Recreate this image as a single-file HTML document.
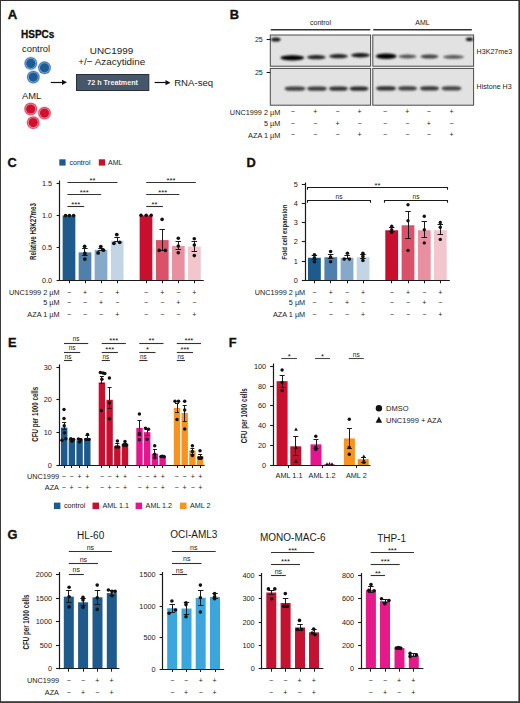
<!DOCTYPE html>
<html><head><meta charset="utf-8"><style>
html,body{margin:0;padding:0;background:#fff;}
svg{display:block;font-family:"Liberation Sans", sans-serif;}
</style></head><body>
<svg width="520" height="703" viewBox="0 0 520 703">
<rect width="520" height="703" fill="#fff"/>
<text x="7.80" y="19.00" font-size="13.2" text-anchor="start" font-weight="bold" fill="#111" stroke="#111" stroke-width="0.35">A</text>
<text x="21.00" y="38.30" font-size="10.0" text-anchor="start" font-weight="bold" fill="#111" stroke="#111" stroke-width="0.3">HSPCs</text>
<text x="22.00" y="52.30" font-size="9.4" text-anchor="start" font-weight="normal" fill="#222" >control</text>
<text x="22.00" y="99.30" font-size="9.4" text-anchor="start" font-weight="normal" fill="#222" >AML</text>
<circle cx="30.80" cy="63.40" r="6.80" fill="#bcd2e8" />
<circle cx="30.80" cy="63.40" r="6.20" fill="#3a70a6" />
<circle cx="30.80" cy="63.40" r="5.40" fill="#86add3" />
<circle cx="30.80" cy="63.40" r="4.60" fill="#1b5b97" />
<circle cx="44.50" cy="67.80" r="6.80" fill="#bcd2e8" />
<circle cx="44.50" cy="67.80" r="6.20" fill="#3a70a6" />
<circle cx="44.50" cy="67.80" r="5.40" fill="#86add3" />
<circle cx="44.50" cy="67.80" r="4.60" fill="#1b5b97" />
<circle cx="33.30" cy="77.10" r="6.80" fill="#bcd2e8" />
<circle cx="33.30" cy="77.10" r="6.20" fill="#3a70a6" />
<circle cx="33.30" cy="77.10" r="5.40" fill="#86add3" />
<circle cx="33.30" cy="77.10" r="4.60" fill="#1b5b97" />
<circle cx="30.70" cy="109.00" r="6.80" fill="#f5bfca" />
<circle cx="30.70" cy="109.00" r="6.20" fill="#d63a55" />
<circle cx="30.70" cy="109.00" r="5.40" fill="#ee95a5" />
<circle cx="30.70" cy="109.00" r="4.60" fill="#d0102e" />
<circle cx="44.50" cy="113.10" r="6.80" fill="#f5bfca" />
<circle cx="44.50" cy="113.10" r="6.20" fill="#d63a55" />
<circle cx="44.50" cy="113.10" r="5.40" fill="#ee95a5" />
<circle cx="44.50" cy="113.10" r="4.60" fill="#d0102e" />
<circle cx="33.20" cy="122.60" r="6.80" fill="#f5bfca" />
<circle cx="33.20" cy="122.60" r="6.20" fill="#d63a55" />
<circle cx="33.20" cy="122.60" r="5.40" fill="#ee95a5" />
<circle cx="33.20" cy="122.60" r="4.60" fill="#d0102e" />
<line x1="50.80" y1="82.50" x2="64.00" y2="82.50" stroke="#111" stroke-width="1.2"/>
<path d="M67.00 82.30 L62.00 79.70 L62.00 84.90 Z" fill="#111"/>
<text x="111.50" y="53.80" font-size="9.9" text-anchor="middle" font-weight="normal" fill="#222" >UNC1999</text>
<text x="111.80" y="65.40" font-size="9.9" text-anchor="middle" font-weight="normal" fill="#222" >+/− Azacytidine</text>
<rect x="76.50" y="74.50" width="72.30" height="16.00" fill="#46576a" stroke="#26303b" stroke-width="1"/>
<text x="112.60" y="85.20" font-size="7.2" text-anchor="middle" font-weight="bold" fill="#f2f4f6" >72 h Treatment</text>
<line x1="154.60" y1="82.50" x2="167.50" y2="82.50" stroke="#111" stroke-width="1.2"/>
<path d="M170.50 82.70 L165.50 80.10 L165.50 85.30 Z" fill="#111"/>
<text x="174.20" y="85.80" font-size="9.6" text-anchor="start" font-weight="normal" fill="#222" >RNA-seq</text>
<text x="229.80" y="18.80" font-size="12.8" text-anchor="start" font-weight="bold" fill="#111" stroke="#111" stroke-width="0.35">B</text>
<text x="320.50" y="25.12" font-size="7.0" text-anchor="middle" font-weight="normal" fill="#1a1a1a" >control</text>
<text x="422.50" y="25.22" font-size="7.0" text-anchor="middle" font-weight="normal" fill="#1a1a1a" >AML</text>
<line x1="270.80" y1="29.70" x2="370.30" y2="29.70" stroke="#333" stroke-width="1.4"/>
<line x1="373.30" y1="29.70" x2="471.80" y2="29.70" stroke="#333" stroke-width="1.4"/>
<defs><filter id="bl" x="-50%" y="-200%" width="200%" height="500%"><feGaussianBlur stdDeviation="1.2 0.8"/></filter><filter id="bl2" x="-50%" y="-200%" width="200%" height="500%"><feGaussianBlur stdDeviation="1.2 0.9"/></filter></defs>
<rect x="270.30" y="35.00" width="100.30" height="31.20" fill="#e2e2e2" stroke="#4a4a4a" stroke-width="1"/>
<rect x="270.30" y="68.40" width="100.30" height="36.80" fill="#e2e2e2" stroke="#4a4a4a" stroke-width="1"/>
<rect x="372.80" y="35.00" width="100.80" height="31.20" fill="#e2e2e2" stroke="#4a4a4a" stroke-width="1"/>
<rect x="372.80" y="68.40" width="100.80" height="36.80" fill="#e2e2e2" stroke="#4a4a4a" stroke-width="1"/>
<ellipse cx="275.80" cy="39.40" rx="4.75" ry="2.00" fill="#000" opacity="0.9" filter="url(#bl)"/>
<ellipse cx="469.50" cy="39.20" rx="3.75" ry="1.80" fill="#000" opacity="0.95" filter="url(#bl)"/>
<ellipse cx="292.30" cy="57.80" rx="12.00" ry="2.60" fill="#000" opacity="1.0" filter="url(#bl)"/>
<ellipse cx="316.30" cy="57.20" rx="9.50" ry="2.10" fill="#000" opacity="0.85" filter="url(#bl)"/>
<ellipse cx="338.50" cy="56.20" rx="9.50" ry="2.10" fill="#000" opacity="0.85" filter="url(#bl)"/>
<ellipse cx="360.50" cy="55.20" rx="9.50" ry="2.20" fill="#000" opacity="0.9" filter="url(#bl)"/>
<ellipse cx="386.20" cy="56.30" rx="10.50" ry="2.80" fill="#000" opacity="1.0" filter="url(#bl)"/>
<ellipse cx="407.50" cy="56.50" rx="9.00" ry="1.90" fill="#000" opacity="0.64" filter="url(#bl)"/>
<ellipse cx="429.50" cy="56.50" rx="9.00" ry="2.00" fill="#000" opacity="0.72" filter="url(#bl)"/>
<ellipse cx="453.50" cy="56.90" rx="10.50" ry="1.80" fill="#000" opacity="0.62" filter="url(#bl)"/>
<rect x="284.50" y="86.40" width="21.00" height="4.40" rx="6.30" ry="2.20" fill="#000" opacity="0.72" filter="url(#bl)"/>
<rect x="307.00" y="86.40" width="20.00" height="4.40" rx="6.00" ry="2.20" fill="#000" opacity="0.74" filter="url(#bl)"/>
<rect x="328.90" y="86.40" width="19.00" height="4.40" rx="5.70" ry="2.20" fill="#000" opacity="0.78" filter="url(#bl)"/>
<rect x="349.50" y="86.40" width="19.00" height="4.40" rx="5.70" ry="2.20" fill="#000" opacity="0.82" filter="url(#bl)"/>
<rect x="376.00" y="86.20" width="20.00" height="4.40" rx="6.00" ry="2.20" fill="#000" opacity="0.8" filter="url(#bl)"/>
<rect x="398.00" y="86.20" width="19.00" height="4.40" rx="5.70" ry="2.20" fill="#000" opacity="0.72" filter="url(#bl)"/>
<rect x="420.00" y="86.20" width="19.00" height="4.40" rx="5.70" ry="2.20" fill="#000" opacity="0.76" filter="url(#bl)"/>
<rect x="441.50" y="86.20" width="20.00" height="4.40" rx="6.00" ry="2.20" fill="#000" opacity="0.7" filter="url(#bl)"/>
<text x="476.60" y="53.76" font-size="7.1" text-anchor="start" font-weight="normal" fill="#1a1a1a" >H3K27me3</text>
<text x="476.60" y="88.86" font-size="7.1" text-anchor="start" font-weight="normal" fill="#1a1a1a" >Histone H3</text>
<text x="262.80" y="41.96" font-size="7.1" text-anchor="end" font-weight="normal" fill="#1a1a1a" >25</text>
<text x="262.80" y="75.16" font-size="7.1" text-anchor="end" font-weight="normal" fill="#1a1a1a" >25</text>
<line x1="266.60" y1="39.50" x2="270.30" y2="39.50" stroke="#1a1a1a" stroke-width="1.1"/>
<line x1="266.60" y1="72.50" x2="270.30" y2="72.50" stroke="#1a1a1a" stroke-width="1.1"/>
<text x="280.30" y="114.53" font-size="7.3" text-anchor="end" font-weight="normal" fill="#1a1a1a" >UNC1999 2 µM</text>
<text x="280.30" y="126.03" font-size="7.3" text-anchor="end" font-weight="normal" fill="#1a1a1a" >5 µM</text>
<text x="280.30" y="137.53" font-size="7.3" text-anchor="end" font-weight="normal" fill="#1a1a1a" >AZA 1 µM</text>
<text x="292.80" y="114.22" font-size="7.0" text-anchor="middle" font-weight="normal" fill="#1a1a1a" >−</text>
<text x="315.30" y="114.22" font-size="7.0" text-anchor="middle" font-weight="normal" fill="#1a1a1a" >+</text>
<text x="337.60" y="114.22" font-size="7.0" text-anchor="middle" font-weight="normal" fill="#1a1a1a" >−</text>
<text x="359.60" y="114.22" font-size="7.0" text-anchor="middle" font-weight="normal" fill="#1a1a1a" >+</text>
<text x="385.00" y="114.22" font-size="7.0" text-anchor="middle" font-weight="normal" fill="#1a1a1a" >−</text>
<text x="407.20" y="114.22" font-size="7.0" text-anchor="middle" font-weight="normal" fill="#1a1a1a" >+</text>
<text x="428.80" y="114.22" font-size="7.0" text-anchor="middle" font-weight="normal" fill="#1a1a1a" >−</text>
<text x="451.60" y="114.22" font-size="7.0" text-anchor="middle" font-weight="normal" fill="#1a1a1a" >+</text>
<text x="292.80" y="125.62" font-size="7.0" text-anchor="middle" font-weight="normal" fill="#1a1a1a" >−</text>
<text x="315.30" y="125.62" font-size="7.0" text-anchor="middle" font-weight="normal" fill="#1a1a1a" >−</text>
<text x="337.60" y="125.62" font-size="7.0" text-anchor="middle" font-weight="normal" fill="#1a1a1a" >+</text>
<text x="359.60" y="125.62" font-size="7.0" text-anchor="middle" font-weight="normal" fill="#1a1a1a" >−</text>
<text x="385.00" y="125.62" font-size="7.0" text-anchor="middle" font-weight="normal" fill="#1a1a1a" >−</text>
<text x="407.20" y="125.62" font-size="7.0" text-anchor="middle" font-weight="normal" fill="#1a1a1a" >−</text>
<text x="428.80" y="125.62" font-size="7.0" text-anchor="middle" font-weight="normal" fill="#1a1a1a" >+</text>
<text x="451.60" y="125.62" font-size="7.0" text-anchor="middle" font-weight="normal" fill="#1a1a1a" >−</text>
<text x="292.80" y="137.12" font-size="7.0" text-anchor="middle" font-weight="normal" fill="#1a1a1a" >−</text>
<text x="315.30" y="137.12" font-size="7.0" text-anchor="middle" font-weight="normal" fill="#1a1a1a" >−</text>
<text x="337.60" y="137.12" font-size="7.0" text-anchor="middle" font-weight="normal" fill="#1a1a1a" >−</text>
<text x="359.60" y="137.12" font-size="7.0" text-anchor="middle" font-weight="normal" fill="#1a1a1a" >+</text>
<text x="385.00" y="137.12" font-size="7.0" text-anchor="middle" font-weight="normal" fill="#1a1a1a" >−</text>
<text x="407.20" y="137.12" font-size="7.0" text-anchor="middle" font-weight="normal" fill="#1a1a1a" >−</text>
<text x="428.80" y="137.12" font-size="7.0" text-anchor="middle" font-weight="normal" fill="#1a1a1a" >−</text>
<text x="451.60" y="137.12" font-size="7.0" text-anchor="middle" font-weight="normal" fill="#1a1a1a" >+</text>
<text x="7.50" y="167.10" font-size="12.8" text-anchor="start" font-weight="bold" fill="#111" stroke="#111" stroke-width="0.35">C</text>
<rect x="59.30" y="159.30" width="6.30" height="6.30" fill="#1f5a8c" />
<text x="69.50" y="165.02" font-size="7.0" text-anchor="start" font-weight="normal" fill="#1a1a1a" >control</text>
<rect x="98.80" y="159.30" width="6.30" height="6.30" fill="#c8102e" />
<text x="108.00" y="165.02" font-size="7.0" text-anchor="start" font-weight="normal" fill="#1a1a1a" >AML</text>
<line x1="59.50" y1="180.50" x2="59.50" y2="280.80" stroke="#1a1a1a" stroke-width="1.2"/>
<line x1="56.60" y1="183.50" x2="59.80" y2="183.50" stroke="#1a1a1a" stroke-width="1.1"/>
<text x="52.10" y="185.78" font-size="7.3" text-anchor="end" font-weight="normal" fill="#1a1a1a" >1.5</text>
<line x1="56.60" y1="215.50" x2="59.80" y2="215.50" stroke="#1a1a1a" stroke-width="1.1"/>
<text x="52.10" y="218.13" font-size="7.3" text-anchor="end" font-weight="normal" fill="#1a1a1a" >1.0</text>
<line x1="56.60" y1="247.50" x2="59.80" y2="247.50" stroke="#1a1a1a" stroke-width="1.1"/>
<text x="52.10" y="250.48" font-size="7.3" text-anchor="end" font-weight="normal" fill="#1a1a1a" >0.5</text>
<line x1="56.60" y1="280.50" x2="59.80" y2="280.50" stroke="#1a1a1a" stroke-width="1.1"/>
<text x="52.10" y="282.83" font-size="7.3" text-anchor="end" font-weight="normal" fill="#1a1a1a" >0.0</text>
<text x="0" y="0" font-size="9.0" font-weight="bold" text-anchor="middle" fill="#1a1a1a" textLength="56.8" lengthAdjust="spacingAndGlyphs" transform="translate(36.24,231.50) rotate(-90)">Relative H3K27me3</text>
<rect x="62.65" y="215.50" width="12.70" height="64.70" fill="#1f5a8c" />
<rect x="78.65" y="252.38" width="12.70" height="27.82" fill="#4f7fab" />
<rect x="94.65" y="249.79" width="12.70" height="30.41" fill="#87a9c9" />
<rect x="110.85" y="240.73" width="12.70" height="39.47" fill="#c3d5e5" />
<rect x="139.65" y="215.50" width="12.70" height="64.70" fill="#c8102e" />
<rect x="155.95" y="240.09" width="12.70" height="40.11" fill="#d9526a" />
<rect x="171.95" y="245.91" width="12.70" height="34.29" fill="#e8909f" />
<rect x="188.05" y="246.56" width="12.70" height="33.64" fill="#f2c6cd" />
<line x1="59.20" y1="280.50" x2="203.80" y2="280.50" stroke="#1a1a1a" stroke-width="1.2"/>
<line x1="69.50" y1="280.20" x2="69.50" y2="283.20" stroke="#1a1a1a" stroke-width="1.0"/>
<line x1="85.50" y1="280.20" x2="85.50" y2="283.20" stroke="#1a1a1a" stroke-width="1.0"/>
<line x1="101.50" y1="280.20" x2="101.50" y2="283.20" stroke="#1a1a1a" stroke-width="1.0"/>
<line x1="117.50" y1="280.20" x2="117.50" y2="283.20" stroke="#1a1a1a" stroke-width="1.0"/>
<line x1="146.50" y1="280.20" x2="146.50" y2="283.20" stroke="#1a1a1a" stroke-width="1.0"/>
<line x1="162.50" y1="280.20" x2="162.50" y2="283.20" stroke="#1a1a1a" stroke-width="1.0"/>
<line x1="178.50" y1="280.20" x2="178.50" y2="283.20" stroke="#1a1a1a" stroke-width="1.0"/>
<line x1="194.50" y1="280.20" x2="194.50" y2="283.20" stroke="#1a1a1a" stroke-width="1.0"/>
<circle cx="65.60" cy="215.60" r="1.80" fill="#111" />
<circle cx="69.40" cy="215.60" r="1.80" fill="#111" />
<circle cx="73.60" cy="215.60" r="1.80" fill="#111" />
<circle cx="141.00" cy="215.20" r="1.80" fill="#111" />
<circle cx="146.20" cy="215.20" r="1.80" fill="#111" />
<circle cx="151.20" cy="215.20" r="1.80" fill="#111" />
<line x1="84.50" y1="248.60" x2="84.50" y2="255.80" stroke="#1a1a1a" stroke-width="1.0"/>
<line x1="82.15" y1="248.50" x2="87.65" y2="248.50" stroke="#1a1a1a" stroke-width="1.0"/>
<line x1="82.15" y1="255.50" x2="87.65" y2="255.50" stroke="#1a1a1a" stroke-width="1.0"/>
<circle cx="84.60" cy="246.30" r="1.90" fill="#111" />
<circle cx="84.90" cy="253.50" r="1.90" fill="#111" />
<circle cx="84.90" cy="259.10" r="1.90" fill="#111" />
<line x1="101.50" y1="248.60" x2="101.50" y2="250.60" stroke="#1a1a1a" stroke-width="1.0"/>
<line x1="98.25" y1="248.50" x2="103.75" y2="248.50" stroke="#1a1a1a" stroke-width="1.0"/>
<line x1="98.25" y1="250.50" x2="103.75" y2="250.50" stroke="#1a1a1a" stroke-width="1.0"/>
<circle cx="100.80" cy="246.60" r="1.90" fill="#111" />
<circle cx="103.40" cy="250.20" r="1.90" fill="#111" />
<circle cx="98.10" cy="252.90" r="1.90" fill="#111" />
<line x1="117.50" y1="237.50" x2="117.50" y2="241.80" stroke="#1a1a1a" stroke-width="1.0"/>
<line x1="114.25" y1="237.50" x2="119.75" y2="237.50" stroke="#1a1a1a" stroke-width="1.0"/>
<line x1="114.25" y1="241.50" x2="119.75" y2="241.50" stroke="#1a1a1a" stroke-width="1.0"/>
<circle cx="116.80" cy="234.60" r="1.90" fill="#111" />
<circle cx="113.90" cy="243.30" r="1.90" fill="#111" />
<circle cx="119.70" cy="242.30" r="1.90" fill="#111" />
<line x1="162.50" y1="229.60" x2="162.50" y2="250.40" stroke="#1a1a1a" stroke-width="1.0"/>
<line x1="159.45" y1="229.50" x2="164.95" y2="229.50" stroke="#1a1a1a" stroke-width="1.0"/>
<line x1="159.45" y1="250.50" x2="164.95" y2="250.50" stroke="#1a1a1a" stroke-width="1.0"/>
<circle cx="162.10" cy="219.40" r="1.80" fill="#111" />
<circle cx="159.20" cy="250.40" r="1.80" fill="#111" />
<circle cx="165.40" cy="250.40" r="1.80" fill="#111" />
<line x1="178.50" y1="241.50" x2="178.50" y2="249.80" stroke="#1a1a1a" stroke-width="1.0"/>
<line x1="175.55" y1="241.50" x2="181.05" y2="241.50" stroke="#1a1a1a" stroke-width="1.0"/>
<line x1="175.55" y1="249.50" x2="181.05" y2="249.50" stroke="#1a1a1a" stroke-width="1.0"/>
<circle cx="178.30" cy="238.30" r="1.80" fill="#111" />
<circle cx="178.30" cy="246.00" r="1.80" fill="#111" />
<circle cx="178.30" cy="252.70" r="1.80" fill="#111" />
<line x1="194.50" y1="241.50" x2="194.50" y2="251.00" stroke="#1a1a1a" stroke-width="1.0"/>
<line x1="191.55" y1="241.50" x2="197.05" y2="241.50" stroke="#1a1a1a" stroke-width="1.0"/>
<line x1="191.55" y1="251.50" x2="197.05" y2="251.50" stroke="#1a1a1a" stroke-width="1.0"/>
<circle cx="194.30" cy="238.70" r="1.80" fill="#111" />
<circle cx="194.30" cy="245.00" r="1.80" fill="#111" />
<circle cx="194.30" cy="255.60" r="1.80" fill="#111" />
<line x1="67.40" y1="182.50" x2="117.50" y2="182.50" stroke="#333" stroke-width="1.1"/>
<text x="92.45" y="182.50" font-size="7.6" text-anchor="middle" font-weight="normal" fill="#111" >**</text>
<line x1="67.40" y1="194.50" x2="101.20" y2="194.50" stroke="#333" stroke-width="1.1"/>
<text x="84.30" y="194.60" font-size="7.6" text-anchor="middle" font-weight="normal" fill="#111" >***</text>
<line x1="67.40" y1="206.50" x2="84.20" y2="206.50" stroke="#333" stroke-width="1.1"/>
<text x="75.80" y="206.90" font-size="7.6" text-anchor="middle" font-weight="normal" fill="#111" >***</text>
<line x1="146.20" y1="182.50" x2="195.80" y2="182.50" stroke="#333" stroke-width="1.1"/>
<text x="171.00" y="182.50" font-size="7.6" text-anchor="middle" font-weight="normal" fill="#111" >***</text>
<line x1="146.20" y1="194.50" x2="179.40" y2="194.50" stroke="#333" stroke-width="1.1"/>
<text x="162.80" y="194.70" font-size="7.6" text-anchor="middle" font-weight="normal" fill="#111" >***</text>
<line x1="146.20" y1="206.50" x2="162.90" y2="206.50" stroke="#333" stroke-width="1.1"/>
<text x="154.55" y="206.60" font-size="7.6" text-anchor="middle" font-weight="normal" fill="#111" >**</text>
<text x="59.50" y="294.63" font-size="7.3" text-anchor="end" font-weight="normal" fill="#1a1a1a" >UNC1999 2 µM</text>
<text x="59.50" y="305.43" font-size="7.3" text-anchor="end" font-weight="normal" fill="#1a1a1a" >5 µM</text>
<text x="59.50" y="316.63" font-size="7.3" text-anchor="end" font-weight="normal" fill="#1a1a1a" >AZA 1 µM</text>
<text x="69.00" y="294.52" font-size="7.0" text-anchor="middle" font-weight="normal" fill="#1a1a1a" >−</text>
<text x="85.00" y="294.52" font-size="7.0" text-anchor="middle" font-weight="normal" fill="#1a1a1a" >+</text>
<text x="101.00" y="294.52" font-size="7.0" text-anchor="middle" font-weight="normal" fill="#1a1a1a" >−</text>
<text x="117.20" y="294.52" font-size="7.0" text-anchor="middle" font-weight="normal" fill="#1a1a1a" >+</text>
<text x="146.00" y="294.52" font-size="7.0" text-anchor="middle" font-weight="normal" fill="#1a1a1a" >−</text>
<text x="162.30" y="294.52" font-size="7.0" text-anchor="middle" font-weight="normal" fill="#1a1a1a" >+</text>
<text x="178.30" y="294.52" font-size="7.0" text-anchor="middle" font-weight="normal" fill="#1a1a1a" >−</text>
<text x="194.40" y="294.52" font-size="7.0" text-anchor="middle" font-weight="normal" fill="#1a1a1a" >+</text>
<text x="69.00" y="305.32" font-size="7.0" text-anchor="middle" font-weight="normal" fill="#1a1a1a" >−</text>
<text x="85.00" y="305.32" font-size="7.0" text-anchor="middle" font-weight="normal" fill="#1a1a1a" >−</text>
<text x="101.00" y="305.32" font-size="7.0" text-anchor="middle" font-weight="normal" fill="#1a1a1a" >+</text>
<text x="117.20" y="305.32" font-size="7.0" text-anchor="middle" font-weight="normal" fill="#1a1a1a" >−</text>
<text x="146.00" y="305.32" font-size="7.0" text-anchor="middle" font-weight="normal" fill="#1a1a1a" >−</text>
<text x="162.30" y="305.32" font-size="7.0" text-anchor="middle" font-weight="normal" fill="#1a1a1a" >−</text>
<text x="178.30" y="305.32" font-size="7.0" text-anchor="middle" font-weight="normal" fill="#1a1a1a" >+</text>
<text x="194.40" y="305.32" font-size="7.0" text-anchor="middle" font-weight="normal" fill="#1a1a1a" >−</text>
<text x="69.00" y="316.52" font-size="7.0" text-anchor="middle" font-weight="normal" fill="#1a1a1a" >−</text>
<text x="85.00" y="316.52" font-size="7.0" text-anchor="middle" font-weight="normal" fill="#1a1a1a" >−</text>
<text x="101.00" y="316.52" font-size="7.0" text-anchor="middle" font-weight="normal" fill="#1a1a1a" >−</text>
<text x="117.20" y="316.52" font-size="7.0" text-anchor="middle" font-weight="normal" fill="#1a1a1a" >+</text>
<text x="146.00" y="316.52" font-size="7.0" text-anchor="middle" font-weight="normal" fill="#1a1a1a" >−</text>
<text x="162.30" y="316.52" font-size="7.0" text-anchor="middle" font-weight="normal" fill="#1a1a1a" >−</text>
<text x="178.30" y="316.52" font-size="7.0" text-anchor="middle" font-weight="normal" fill="#1a1a1a" >−</text>
<text x="194.40" y="316.52" font-size="7.0" text-anchor="middle" font-weight="normal" fill="#1a1a1a" >+</text>
<text x="246.40" y="166.90" font-size="12.8" text-anchor="start" font-weight="bold" fill="#111" stroke="#111" stroke-width="0.35">D</text>
<line x1="305.50" y1="182.50" x2="305.50" y2="280.90" stroke="#1a1a1a" stroke-width="1.2"/>
<line x1="301.80" y1="280.50" x2="305.00" y2="280.50" stroke="#1a1a1a" stroke-width="1.1"/>
<text x="297.80" y="282.93" font-size="7.3" text-anchor="end" font-weight="normal" fill="#1a1a1a" >0</text>
<line x1="301.80" y1="261.50" x2="305.00" y2="261.50" stroke="#1a1a1a" stroke-width="1.1"/>
<text x="297.80" y="263.68" font-size="7.3" text-anchor="end" font-weight="normal" fill="#1a1a1a" >1</text>
<line x1="301.80" y1="241.50" x2="305.00" y2="241.50" stroke="#1a1a1a" stroke-width="1.1"/>
<text x="297.80" y="244.43" font-size="7.3" text-anchor="end" font-weight="normal" fill="#1a1a1a" >2</text>
<line x1="301.80" y1="222.50" x2="305.00" y2="222.50" stroke="#1a1a1a" stroke-width="1.1"/>
<text x="297.80" y="225.18" font-size="7.3" text-anchor="end" font-weight="normal" fill="#1a1a1a" >3</text>
<line x1="301.80" y1="203.50" x2="305.00" y2="203.50" stroke="#1a1a1a" stroke-width="1.1"/>
<text x="297.80" y="205.93" font-size="7.3" text-anchor="end" font-weight="normal" fill="#1a1a1a" >4</text>
<line x1="301.80" y1="184.50" x2="305.00" y2="184.50" stroke="#1a1a1a" stroke-width="1.1"/>
<text x="297.80" y="186.68" font-size="7.3" text-anchor="end" font-weight="normal" fill="#1a1a1a" >5</text>
<text x="0" y="0" font-size="8.0" font-weight="bold" text-anchor="middle" fill="#1a1a1a" textLength="55" lengthAdjust="spacingAndGlyphs" transform="translate(287.18,232.20) rotate(-90)">Fold cell expansion</text>
<rect x="308.00" y="257.78" width="12.80" height="22.52" fill="#1f5a8c" />
<rect x="324.40" y="257.20" width="12.80" height="23.10" fill="#4f7fab" />
<rect x="340.60" y="257.78" width="12.80" height="22.52" fill="#87a9c9" />
<rect x="356.70" y="257.20" width="12.80" height="23.10" fill="#c3d5e5" />
<rect x="385.30" y="230.25" width="12.80" height="50.05" fill="#c8102e" />
<rect x="401.60" y="225.25" width="12.80" height="55.06" fill="#d9526a" />
<rect x="417.90" y="230.25" width="12.80" height="50.05" fill="#e8909f" />
<rect x="433.90" y="230.25" width="12.80" height="50.05" fill="#f2c6cd" />
<line x1="304.40" y1="280.50" x2="449.80" y2="280.50" stroke="#1a1a1a" stroke-width="1.2"/>
<line x1="314.50" y1="280.30" x2="314.50" y2="283.30" stroke="#1a1a1a" stroke-width="1.0"/>
<line x1="330.50" y1="280.30" x2="330.50" y2="283.30" stroke="#1a1a1a" stroke-width="1.0"/>
<line x1="347.50" y1="280.30" x2="347.50" y2="283.30" stroke="#1a1a1a" stroke-width="1.0"/>
<line x1="363.50" y1="280.30" x2="363.50" y2="283.30" stroke="#1a1a1a" stroke-width="1.0"/>
<line x1="391.50" y1="280.30" x2="391.50" y2="283.30" stroke="#1a1a1a" stroke-width="1.0"/>
<line x1="408.50" y1="280.30" x2="408.50" y2="283.30" stroke="#1a1a1a" stroke-width="1.0"/>
<line x1="424.50" y1="280.30" x2="424.50" y2="283.30" stroke="#1a1a1a" stroke-width="1.0"/>
<line x1="440.50" y1="280.30" x2="440.50" y2="283.30" stroke="#1a1a1a" stroke-width="1.0"/>
<line x1="314.50" y1="255.80" x2="314.50" y2="259.80" stroke="#1a1a1a" stroke-width="1.0"/>
<line x1="311.65" y1="255.50" x2="317.15" y2="255.50" stroke="#1a1a1a" stroke-width="1.0"/>
<line x1="311.65" y1="259.50" x2="317.15" y2="259.50" stroke="#1a1a1a" stroke-width="1.0"/>
<circle cx="314.40" cy="254.70" r="1.80" fill="#111" />
<circle cx="314.40" cy="257.80" r="1.80" fill="#111" />
<circle cx="314.40" cy="261.80" r="1.80" fill="#111" />
<line x1="330.50" y1="254.20" x2="330.50" y2="258.50" stroke="#1a1a1a" stroke-width="1.0"/>
<line x1="327.85" y1="254.50" x2="333.35" y2="254.50" stroke="#1a1a1a" stroke-width="1.0"/>
<line x1="327.85" y1="258.50" x2="333.35" y2="258.50" stroke="#1a1a1a" stroke-width="1.0"/>
<circle cx="330.60" cy="251.50" r="1.80" fill="#111" />
<circle cx="330.60" cy="257.10" r="1.80" fill="#111" />
<circle cx="330.60" cy="261.80" r="1.80" fill="#111" />
<line x1="347.50" y1="255.80" x2="347.50" y2="258.50" stroke="#1a1a1a" stroke-width="1.0"/>
<line x1="344.45" y1="255.50" x2="349.95" y2="255.50" stroke="#1a1a1a" stroke-width="1.0"/>
<line x1="344.45" y1="258.50" x2="349.95" y2="258.50" stroke="#1a1a1a" stroke-width="1.0"/>
<circle cx="347.40" cy="253.30" r="1.80" fill="#111" />
<circle cx="344.20" cy="259.10" r="1.80" fill="#111" />
<circle cx="349.40" cy="259.10" r="1.80" fill="#111" />
<line x1="362.50" y1="254.70" x2="362.50" y2="258.50" stroke="#1a1a1a" stroke-width="1.0"/>
<line x1="360.15" y1="254.50" x2="365.65" y2="254.50" stroke="#1a1a1a" stroke-width="1.0"/>
<line x1="360.15" y1="258.50" x2="365.65" y2="258.50" stroke="#1a1a1a" stroke-width="1.0"/>
<circle cx="362.90" cy="253.30" r="1.80" fill="#111" />
<circle cx="362.90" cy="256.40" r="1.80" fill="#111" />
<circle cx="362.90" cy="260.50" r="1.80" fill="#111" />
<line x1="391.50" y1="227.00" x2="391.50" y2="231.50" stroke="#1a1a1a" stroke-width="1.0"/>
<line x1="388.95" y1="227.50" x2="394.45" y2="227.50" stroke="#1a1a1a" stroke-width="1.0"/>
<line x1="388.95" y1="231.50" x2="394.45" y2="231.50" stroke="#1a1a1a" stroke-width="1.0"/>
<circle cx="391.70" cy="226.30" r="1.70" fill="#111" />
<circle cx="391.70" cy="229.80" r="1.70" fill="#111" />
<circle cx="391.70" cy="232.30" r="1.70" fill="#111" />
<line x1="408.50" y1="211.90" x2="408.50" y2="238.10" stroke="#1a1a1a" stroke-width="1.0"/>
<line x1="405.25" y1="211.50" x2="410.75" y2="211.50" stroke="#1a1a1a" stroke-width="1.0"/>
<line x1="405.25" y1="238.50" x2="410.75" y2="238.50" stroke="#1a1a1a" stroke-width="1.0"/>
<circle cx="408.00" cy="204.80" r="1.70" fill="#111" />
<circle cx="408.00" cy="220.80" r="1.70" fill="#111" />
<circle cx="408.00" cy="250.40" r="1.70" fill="#111" />
<line x1="424.50" y1="221.70" x2="424.50" y2="237.50" stroke="#1a1a1a" stroke-width="1.0"/>
<line x1="421.55" y1="221.50" x2="427.05" y2="221.50" stroke="#1a1a1a" stroke-width="1.0"/>
<line x1="421.55" y1="237.50" x2="427.05" y2="237.50" stroke="#1a1a1a" stroke-width="1.0"/>
<circle cx="424.30" cy="216.30" r="1.70" fill="#111" />
<circle cx="424.30" cy="229.80" r="1.70" fill="#111" />
<circle cx="424.30" cy="242.90" r="1.70" fill="#111" />
<line x1="440.50" y1="224.40" x2="440.50" y2="234.60" stroke="#1a1a1a" stroke-width="1.0"/>
<line x1="437.55" y1="224.50" x2="443.05" y2="224.50" stroke="#1a1a1a" stroke-width="1.0"/>
<line x1="437.55" y1="234.50" x2="443.05" y2="234.50" stroke="#1a1a1a" stroke-width="1.0"/>
<circle cx="440.30" cy="222.50" r="1.70" fill="#111" />
<circle cx="440.30" cy="227.30" r="1.70" fill="#111" />
<circle cx="440.30" cy="239.40" r="1.70" fill="#111" />
<path d="M307.50 189.70 L307.50 187.50 L447.50 187.50 L447.50 189.70" fill="none" stroke="#1a1a1a" stroke-width="1.1"/>
<text x="377.50" y="187.60" font-size="7.6" text-anchor="middle" font-weight="normal" fill="#111" >**</text>
<path d="M307.50 202.70 L307.50 200.50 L370.50 200.50 L370.50 202.70" fill="none" stroke="#1a1a1a" stroke-width="1.1"/>
<text x="339.00" y="199.25" font-size="6.5" text-anchor="middle" font-weight="normal" fill="#222" >ns</text>
<path d="M384.50 202.70 L384.50 200.50 L447.50 200.50 L447.50 202.70" fill="none" stroke="#1a1a1a" stroke-width="1.1"/>
<text x="416.00" y="199.25" font-size="6.5" text-anchor="middle" font-weight="normal" fill="#222" >ns</text>
<text x="305.20" y="294.63" font-size="7.3" text-anchor="end" font-weight="normal" fill="#1a1a1a" >UNC1999 2 µM</text>
<text x="305.20" y="305.43" font-size="7.3" text-anchor="end" font-weight="normal" fill="#1a1a1a" >5 µM</text>
<text x="305.20" y="316.63" font-size="7.3" text-anchor="end" font-weight="normal" fill="#1a1a1a" >AZA 1 µM</text>
<text x="314.40" y="294.52" font-size="7.0" text-anchor="middle" font-weight="normal" fill="#1a1a1a" >−</text>
<text x="330.80" y="294.52" font-size="7.0" text-anchor="middle" font-weight="normal" fill="#1a1a1a" >+</text>
<text x="347.00" y="294.52" font-size="7.0" text-anchor="middle" font-weight="normal" fill="#1a1a1a" >−</text>
<text x="363.10" y="294.52" font-size="7.0" text-anchor="middle" font-weight="normal" fill="#1a1a1a" >+</text>
<text x="391.70" y="294.52" font-size="7.0" text-anchor="middle" font-weight="normal" fill="#1a1a1a" >−</text>
<text x="408.00" y="294.52" font-size="7.0" text-anchor="middle" font-weight="normal" fill="#1a1a1a" >+</text>
<text x="424.30" y="294.52" font-size="7.0" text-anchor="middle" font-weight="normal" fill="#1a1a1a" >−</text>
<text x="440.30" y="294.52" font-size="7.0" text-anchor="middle" font-weight="normal" fill="#1a1a1a" >+</text>
<text x="314.40" y="305.32" font-size="7.0" text-anchor="middle" font-weight="normal" fill="#1a1a1a" >−</text>
<text x="330.80" y="305.32" font-size="7.0" text-anchor="middle" font-weight="normal" fill="#1a1a1a" >−</text>
<text x="347.00" y="305.32" font-size="7.0" text-anchor="middle" font-weight="normal" fill="#1a1a1a" >+</text>
<text x="363.10" y="305.32" font-size="7.0" text-anchor="middle" font-weight="normal" fill="#1a1a1a" >−</text>
<text x="391.70" y="305.32" font-size="7.0" text-anchor="middle" font-weight="normal" fill="#1a1a1a" >−</text>
<text x="408.00" y="305.32" font-size="7.0" text-anchor="middle" font-weight="normal" fill="#1a1a1a" >−</text>
<text x="424.30" y="305.32" font-size="7.0" text-anchor="middle" font-weight="normal" fill="#1a1a1a" >+</text>
<text x="440.30" y="305.32" font-size="7.0" text-anchor="middle" font-weight="normal" fill="#1a1a1a" >−</text>
<text x="314.40" y="316.52" font-size="7.0" text-anchor="middle" font-weight="normal" fill="#1a1a1a" >−</text>
<text x="330.80" y="316.52" font-size="7.0" text-anchor="middle" font-weight="normal" fill="#1a1a1a" >−</text>
<text x="347.00" y="316.52" font-size="7.0" text-anchor="middle" font-weight="normal" fill="#1a1a1a" >−</text>
<text x="363.10" y="316.52" font-size="7.0" text-anchor="middle" font-weight="normal" fill="#1a1a1a" >+</text>
<text x="391.70" y="316.52" font-size="7.0" text-anchor="middle" font-weight="normal" fill="#1a1a1a" >−</text>
<text x="408.00" y="316.52" font-size="7.0" text-anchor="middle" font-weight="normal" fill="#1a1a1a" >−</text>
<text x="424.30" y="316.52" font-size="7.0" text-anchor="middle" font-weight="normal" fill="#1a1a1a" >−</text>
<text x="440.30" y="316.52" font-size="7.0" text-anchor="middle" font-weight="normal" fill="#1a1a1a" >+</text>
<text x="8.00" y="346.60" font-size="12.8" text-anchor="start" font-weight="bold" fill="#111" stroke="#111" stroke-width="0.35">E</text>
<line x1="59.50" y1="364.40" x2="59.50" y2="465.80" stroke="#1a1a1a" stroke-width="1.2"/>
<line x1="56.40" y1="367.50" x2="59.60" y2="367.50" stroke="#1a1a1a" stroke-width="1.1"/>
<text x="51.90" y="369.73" font-size="7.3" text-anchor="end" font-weight="normal" fill="#1a1a1a" >30</text>
<line x1="56.40" y1="399.50" x2="59.60" y2="399.50" stroke="#1a1a1a" stroke-width="1.1"/>
<text x="51.90" y="402.43" font-size="7.3" text-anchor="end" font-weight="normal" fill="#1a1a1a" >20</text>
<line x1="56.40" y1="432.50" x2="59.60" y2="432.50" stroke="#1a1a1a" stroke-width="1.1"/>
<text x="51.90" y="435.13" font-size="7.3" text-anchor="end" font-weight="normal" fill="#1a1a1a" >10</text>
<line x1="56.40" y1="465.50" x2="59.60" y2="465.50" stroke="#1a1a1a" stroke-width="1.1"/>
<text x="51.90" y="467.83" font-size="7.3" text-anchor="end" font-weight="normal" fill="#1a1a1a" >0</text>
<text x="0" y="0" font-size="8.2" font-weight="bold" text-anchor="middle" fill="#1a1a1a" textLength="55" lengthAdjust="spacingAndGlyphs" transform="translate(37.95,414.30) rotate(-90)">CFU per 1000 cells</text>
<rect x="61.00" y="427.59" width="6.40" height="37.61" fill="#1f5a8c" />
<rect x="68.70" y="439.04" width="6.40" height="26.16" fill="#1f5a8c" />
<rect x="76.40" y="440.35" width="6.40" height="24.85" fill="#1f5a8c" />
<rect x="84.10" y="438.06" width="6.40" height="27.14" fill="#1f5a8c" />
<rect x="98.70" y="382.47" width="6.40" height="82.73" fill="#c8102e" />
<rect x="106.40" y="399.80" width="6.40" height="65.40" fill="#c8102e" />
<rect x="114.10" y="446.23" width="6.40" height="18.97" fill="#c8102e" />
<rect x="121.80" y="444.60" width="6.40" height="20.60" fill="#c8102e" />
<rect x="136.30" y="427.92" width="6.40" height="37.28" fill="#e5158f" />
<rect x="144.00" y="432.17" width="6.40" height="33.03" fill="#e5158f" />
<rect x="151.70" y="453.75" width="6.40" height="11.44" fill="#e5158f" />
<rect x="159.40" y="456.04" width="6.40" height="9.16" fill="#e5158f" />
<rect x="173.80" y="407.97" width="6.40" height="57.23" fill="#f7931e" />
<rect x="181.50" y="412.88" width="6.40" height="52.32" fill="#f7931e" />
<rect x="189.20" y="450.49" width="6.40" height="14.71" fill="#f7931e" />
<rect x="196.90" y="456.37" width="6.40" height="8.83" fill="#f7931e" />
<line x1="59.00" y1="465.50" x2="204.60" y2="465.50" stroke="#1a1a1a" stroke-width="1.2"/>
<line x1="64.50" y1="465.20" x2="64.50" y2="468.00" stroke="#1a1a1a" stroke-width="1.0"/>
<line x1="71.50" y1="465.20" x2="71.50" y2="468.00" stroke="#1a1a1a" stroke-width="1.0"/>
<line x1="79.50" y1="465.20" x2="79.50" y2="468.00" stroke="#1a1a1a" stroke-width="1.0"/>
<line x1="87.50" y1="465.20" x2="87.50" y2="468.00" stroke="#1a1a1a" stroke-width="1.0"/>
<line x1="101.50" y1="465.20" x2="101.50" y2="468.00" stroke="#1a1a1a" stroke-width="1.0"/>
<line x1="109.50" y1="465.20" x2="109.50" y2="468.00" stroke="#1a1a1a" stroke-width="1.0"/>
<line x1="117.50" y1="465.20" x2="117.50" y2="468.00" stroke="#1a1a1a" stroke-width="1.0"/>
<line x1="125.50" y1="465.20" x2="125.50" y2="468.00" stroke="#1a1a1a" stroke-width="1.0"/>
<line x1="139.50" y1="465.20" x2="139.50" y2="468.00" stroke="#1a1a1a" stroke-width="1.0"/>
<line x1="147.50" y1="465.20" x2="147.50" y2="468.00" stroke="#1a1a1a" stroke-width="1.0"/>
<line x1="154.50" y1="465.20" x2="154.50" y2="468.00" stroke="#1a1a1a" stroke-width="1.0"/>
<line x1="162.50" y1="465.20" x2="162.50" y2="468.00" stroke="#1a1a1a" stroke-width="1.0"/>
<line x1="177.50" y1="465.20" x2="177.50" y2="468.00" stroke="#1a1a1a" stroke-width="1.0"/>
<line x1="184.50" y1="465.20" x2="184.50" y2="468.00" stroke="#1a1a1a" stroke-width="1.0"/>
<line x1="192.50" y1="465.20" x2="192.50" y2="468.00" stroke="#1a1a1a" stroke-width="1.0"/>
<line x1="200.50" y1="465.20" x2="200.50" y2="468.00" stroke="#1a1a1a" stroke-width="1.0"/>
<line x1="64.50" y1="422.50" x2="64.50" y2="429.50" stroke="#1a1a1a" stroke-width="1.0"/>
<line x1="62.20" y1="422.50" x2="66.20" y2="422.50" stroke="#1a1a1a" stroke-width="1.0"/>
<line x1="62.20" y1="429.50" x2="66.20" y2="429.50" stroke="#1a1a1a" stroke-width="1.0"/>
<circle cx="64.00" cy="409.60" r="1.75" fill="#111" />
<circle cx="64.00" cy="418.50" r="1.75" fill="#111" />
<circle cx="64.20" cy="425.80" r="1.75" fill="#111" />
<circle cx="64.60" cy="432.70" r="1.75" fill="#111" />
<circle cx="62.00" cy="440.20" r="1.75" fill="#111" />
<circle cx="65.80" cy="438.80" r="1.75" fill="#111" />
<line x1="71.50" y1="438.00" x2="71.50" y2="440.50" stroke="#1a1a1a" stroke-width="1.0"/>
<line x1="69.90" y1="438.50" x2="73.90" y2="438.50" stroke="#1a1a1a" stroke-width="1.0"/>
<line x1="69.90" y1="440.50" x2="73.90" y2="440.50" stroke="#1a1a1a" stroke-width="1.0"/>
<circle cx="70.80" cy="438.80" r="1.75" fill="#111" />
<circle cx="73.60" cy="439.50" r="1.75" fill="#111" />
<circle cx="72.00" cy="441.20" r="1.75" fill="#111" />
<line x1="79.50" y1="438.50" x2="79.50" y2="441.00" stroke="#1a1a1a" stroke-width="1.0"/>
<line x1="77.60" y1="438.50" x2="81.60" y2="438.50" stroke="#1a1a1a" stroke-width="1.0"/>
<line x1="77.60" y1="441.50" x2="81.60" y2="441.50" stroke="#1a1a1a" stroke-width="1.0"/>
<circle cx="78.40" cy="439.00" r="1.75" fill="#111" />
<circle cx="81.00" cy="439.80" r="1.75" fill="#111" />
<circle cx="79.60" cy="442.00" r="1.75" fill="#111" />
<line x1="87.50" y1="435.50" x2="87.50" y2="440.00" stroke="#1a1a1a" stroke-width="1.0"/>
<line x1="85.30" y1="435.50" x2="89.30" y2="435.50" stroke="#1a1a1a" stroke-width="1.0"/>
<line x1="85.30" y1="440.50" x2="89.30" y2="440.50" stroke="#1a1a1a" stroke-width="1.0"/>
<circle cx="87.50" cy="434.50" r="1.75" fill="#111" />
<circle cx="86.00" cy="439.50" r="1.75" fill="#111" />
<circle cx="89.00" cy="439.50" r="1.75" fill="#111" />
<line x1="101.50" y1="376.00" x2="101.50" y2="383.00" stroke="#1a1a1a" stroke-width="1.0"/>
<line x1="99.90" y1="376.50" x2="103.90" y2="376.50" stroke="#1a1a1a" stroke-width="1.0"/>
<line x1="99.90" y1="383.50" x2="103.90" y2="383.50" stroke="#1a1a1a" stroke-width="1.0"/>
<circle cx="100.40" cy="372.50" r="1.75" fill="#111" />
<circle cx="102.90" cy="373.00" r="1.75" fill="#111" />
<circle cx="104.80" cy="373.40" r="1.75" fill="#111" />
<circle cx="101.90" cy="379.20" r="1.75" fill="#111" />
<circle cx="101.40" cy="410.40" r="1.75" fill="#111" />
<line x1="109.50" y1="387.90" x2="109.50" y2="408.00" stroke="#1a1a1a" stroke-width="1.0"/>
<line x1="107.60" y1="387.50" x2="111.60" y2="387.50" stroke="#1a1a1a" stroke-width="1.0"/>
<line x1="107.60" y1="408.50" x2="111.60" y2="408.50" stroke="#1a1a1a" stroke-width="1.0"/>
<circle cx="109.40" cy="377.90" r="1.75" fill="#111" />
<circle cx="109.40" cy="402.70" r="1.75" fill="#111" />
<circle cx="109.40" cy="418.70" r="1.75" fill="#111" />
<line x1="117.50" y1="443.50" x2="117.50" y2="447.50" stroke="#1a1a1a" stroke-width="1.0"/>
<line x1="115.30" y1="443.50" x2="119.30" y2="443.50" stroke="#1a1a1a" stroke-width="1.0"/>
<line x1="115.30" y1="447.50" x2="119.30" y2="447.50" stroke="#1a1a1a" stroke-width="1.0"/>
<circle cx="117.40" cy="441.00" r="1.75" fill="#111" />
<circle cx="116.20" cy="446.90" r="1.75" fill="#111" />
<circle cx="118.50" cy="446.90" r="1.75" fill="#111" />
<line x1="125.50" y1="443.00" x2="125.50" y2="446.00" stroke="#1a1a1a" stroke-width="1.0"/>
<line x1="123.00" y1="443.50" x2="127.00" y2="443.50" stroke="#1a1a1a" stroke-width="1.0"/>
<line x1="123.00" y1="446.50" x2="127.00" y2="446.50" stroke="#1a1a1a" stroke-width="1.0"/>
<circle cx="125.00" cy="441.50" r="1.75" fill="#111" />
<circle cx="123.40" cy="445.00" r="1.75" fill="#111" />
<circle cx="126.60" cy="445.00" r="1.75" fill="#111" />
<line x1="139.50" y1="420.30" x2="139.50" y2="435.80" stroke="#1a1a1a" stroke-width="1.0"/>
<line x1="137.50" y1="420.50" x2="141.50" y2="420.50" stroke="#1a1a1a" stroke-width="1.0"/>
<line x1="137.50" y1="435.50" x2="141.50" y2="435.50" stroke="#1a1a1a" stroke-width="1.0"/>
<circle cx="139.40" cy="413.90" r="1.75" fill="#111" />
<circle cx="139.40" cy="433.50" r="1.75" fill="#111" />
<circle cx="139.40" cy="439.70" r="1.75" fill="#111" />
<line x1="147.50" y1="429.00" x2="147.50" y2="435.00" stroke="#1a1a1a" stroke-width="1.0"/>
<line x1="145.20" y1="429.50" x2="149.20" y2="429.50" stroke="#1a1a1a" stroke-width="1.0"/>
<line x1="145.20" y1="435.50" x2="149.20" y2="435.50" stroke="#1a1a1a" stroke-width="1.0"/>
<circle cx="145.50" cy="428.20" r="1.75" fill="#111" />
<circle cx="148.50" cy="429.30" r="1.75" fill="#111" />
<circle cx="147.00" cy="439.20" r="1.75" fill="#111" />
<line x1="154.50" y1="449.60" x2="154.50" y2="457.00" stroke="#1a1a1a" stroke-width="1.0"/>
<line x1="152.90" y1="449.50" x2="156.90" y2="449.50" stroke="#1a1a1a" stroke-width="1.0"/>
<line x1="152.90" y1="457.50" x2="156.90" y2="457.50" stroke="#1a1a1a" stroke-width="1.0"/>
<circle cx="154.70" cy="445.70" r="1.75" fill="#111" />
<circle cx="154.70" cy="454.20" r="1.75" fill="#111" />
<circle cx="154.70" cy="457.70" r="1.75" fill="#111" />
<line x1="162.50" y1="455.50" x2="162.50" y2="457.50" stroke="#1a1a1a" stroke-width="1.0"/>
<line x1="160.60" y1="455.50" x2="164.60" y2="455.50" stroke="#1a1a1a" stroke-width="1.0"/>
<line x1="160.60" y1="457.50" x2="164.60" y2="457.50" stroke="#1a1a1a" stroke-width="1.0"/>
<circle cx="161.00" cy="456.60" r="1.75" fill="#111" />
<circle cx="162.70" cy="456.20" r="1.75" fill="#111" />
<circle cx="164.20" cy="456.80" r="1.75" fill="#111" />
<line x1="177.50" y1="403.50" x2="177.50" y2="412.70" stroke="#1a1a1a" stroke-width="1.0"/>
<line x1="175.00" y1="403.50" x2="179.00" y2="403.50" stroke="#1a1a1a" stroke-width="1.0"/>
<line x1="175.00" y1="412.50" x2="179.00" y2="412.50" stroke="#1a1a1a" stroke-width="1.0"/>
<circle cx="175.00" cy="401.20" r="1.75" fill="#111" />
<circle cx="178.50" cy="401.20" r="1.75" fill="#111" />
<circle cx="177.00" cy="419.60" r="1.75" fill="#111" />
<line x1="184.50" y1="405.30" x2="184.50" y2="421.90" stroke="#1a1a1a" stroke-width="1.0"/>
<line x1="182.70" y1="405.50" x2="186.70" y2="405.50" stroke="#1a1a1a" stroke-width="1.0"/>
<line x1="182.70" y1="421.50" x2="186.70" y2="421.50" stroke="#1a1a1a" stroke-width="1.0"/>
<circle cx="184.70" cy="401.20" r="1.75" fill="#111" />
<circle cx="184.70" cy="410.00" r="1.75" fill="#111" />
<circle cx="184.70" cy="428.90" r="1.75" fill="#111" />
<line x1="192.50" y1="448.50" x2="192.50" y2="454.00" stroke="#1a1a1a" stroke-width="1.0"/>
<line x1="190.40" y1="448.50" x2="194.40" y2="448.50" stroke="#1a1a1a" stroke-width="1.0"/>
<line x1="190.40" y1="454.50" x2="194.40" y2="454.50" stroke="#1a1a1a" stroke-width="1.0"/>
<circle cx="192.40" cy="445.70" r="1.75" fill="#111" />
<circle cx="192.40" cy="451.50" r="1.75" fill="#111" />
<circle cx="192.40" cy="455.40" r="1.75" fill="#111" />
<line x1="200.50" y1="454.00" x2="200.50" y2="459.00" stroke="#1a1a1a" stroke-width="1.0"/>
<line x1="198.10" y1="454.50" x2="202.10" y2="454.50" stroke="#1a1a1a" stroke-width="1.0"/>
<line x1="198.10" y1="459.50" x2="202.10" y2="459.50" stroke="#1a1a1a" stroke-width="1.0"/>
<circle cx="200.00" cy="450.80" r="1.75" fill="#111" />
<circle cx="198.90" cy="457.70" r="1.75" fill="#111" />
<circle cx="201.60" cy="457.70" r="1.75" fill="#111" />
<line x1="64.00" y1="343.50" x2="88.20" y2="343.50" stroke="#333" stroke-width="1.1"/>
<text x="76.10" y="341.00" font-size="6.3" text-anchor="middle" font-weight="normal" fill="#222" >ns</text>
<line x1="64.00" y1="352.50" x2="80.20" y2="352.50" stroke="#333" stroke-width="1.1"/>
<text x="72.10" y="349.90" font-size="6.3" text-anchor="middle" font-weight="normal" fill="#222" >ns</text>
<line x1="64.00" y1="360.50" x2="72.20" y2="360.50" stroke="#333" stroke-width="1.1"/>
<text x="68.10" y="358.60" font-size="6.3" text-anchor="middle" font-weight="normal" fill="#222" >ns</text>
<line x1="101.70" y1="343.50" x2="125.90" y2="343.50" stroke="#333" stroke-width="1.1"/>
<text x="113.80" y="343.40" font-size="7.6" text-anchor="middle" font-weight="normal" fill="#111" >***</text>
<line x1="101.70" y1="352.50" x2="117.90" y2="352.50" stroke="#333" stroke-width="1.1"/>
<text x="109.80" y="352.30" font-size="7.6" text-anchor="middle" font-weight="normal" fill="#111" >***</text>
<line x1="101.70" y1="360.50" x2="109.90" y2="360.50" stroke="#333" stroke-width="1.1"/>
<text x="105.80" y="358.60" font-size="6.3" text-anchor="middle" font-weight="normal" fill="#222" >ns</text>
<line x1="139.30" y1="343.50" x2="163.50" y2="343.50" stroke="#333" stroke-width="1.1"/>
<text x="151.40" y="343.40" font-size="7.6" text-anchor="middle" font-weight="normal" fill="#111" >**</text>
<line x1="139.30" y1="352.50" x2="155.50" y2="352.50" stroke="#333" stroke-width="1.1"/>
<text x="147.40" y="352.30" font-size="7.6" text-anchor="middle" font-weight="normal" fill="#111" >*</text>
<line x1="139.30" y1="360.50" x2="147.50" y2="360.50" stroke="#333" stroke-width="1.1"/>
<text x="143.40" y="358.60" font-size="6.3" text-anchor="middle" font-weight="normal" fill="#222" >ns</text>
<line x1="176.80" y1="343.50" x2="201.00" y2="343.50" stroke="#333" stroke-width="1.1"/>
<text x="188.90" y="343.40" font-size="7.6" text-anchor="middle" font-weight="normal" fill="#111" >***</text>
<line x1="176.80" y1="352.50" x2="193.00" y2="352.50" stroke="#333" stroke-width="1.1"/>
<text x="184.90" y="352.30" font-size="7.6" text-anchor="middle" font-weight="normal" fill="#111" >***</text>
<line x1="176.80" y1="360.50" x2="185.00" y2="360.50" stroke="#333" stroke-width="1.1"/>
<text x="180.90" y="358.60" font-size="6.3" text-anchor="middle" font-weight="normal" fill="#222" >ns</text>
<text x="59.00" y="478.63" font-size="7.3" text-anchor="end" font-weight="normal" fill="#1a1a1a" >UNC1999</text>
<text x="59.00" y="490.23" font-size="7.3" text-anchor="end" font-weight="normal" fill="#1a1a1a" >AZA</text>
<text x="63.80" y="478.82" font-size="7.0" text-anchor="middle" font-weight="normal" fill="#1a1a1a" >−</text>
<text x="71.60" y="478.82" font-size="7.0" text-anchor="middle" font-weight="normal" fill="#1a1a1a" >−</text>
<text x="79.60" y="478.82" font-size="7.0" text-anchor="middle" font-weight="normal" fill="#1a1a1a" >+</text>
<text x="87.40" y="478.82" font-size="7.0" text-anchor="middle" font-weight="normal" fill="#1a1a1a" >+</text>
<text x="102.00" y="478.82" font-size="7.0" text-anchor="middle" font-weight="normal" fill="#1a1a1a" >−</text>
<text x="109.60" y="478.82" font-size="7.0" text-anchor="middle" font-weight="normal" fill="#1a1a1a" >−</text>
<text x="117.20" y="478.82" font-size="7.0" text-anchor="middle" font-weight="normal" fill="#1a1a1a" >+</text>
<text x="125.00" y="478.82" font-size="7.0" text-anchor="middle" font-weight="normal" fill="#1a1a1a" >+</text>
<text x="139.60" y="478.82" font-size="7.0" text-anchor="middle" font-weight="normal" fill="#1a1a1a" >−</text>
<text x="147.20" y="478.82" font-size="7.0" text-anchor="middle" font-weight="normal" fill="#1a1a1a" >−</text>
<text x="155.00" y="478.82" font-size="7.0" text-anchor="middle" font-weight="normal" fill="#1a1a1a" >+</text>
<text x="162.70" y="478.82" font-size="7.0" text-anchor="middle" font-weight="normal" fill="#1a1a1a" >+</text>
<text x="176.50" y="478.82" font-size="7.0" text-anchor="middle" font-weight="normal" fill="#1a1a1a" >−</text>
<text x="184.60" y="478.82" font-size="7.0" text-anchor="middle" font-weight="normal" fill="#1a1a1a" >−</text>
<text x="192.70" y="478.82" font-size="7.0" text-anchor="middle" font-weight="normal" fill="#1a1a1a" >+</text>
<text x="200.30" y="478.82" font-size="7.0" text-anchor="middle" font-weight="normal" fill="#1a1a1a" >+</text>
<text x="63.80" y="490.12" font-size="7.0" text-anchor="middle" font-weight="normal" fill="#1a1a1a" >−</text>
<text x="71.60" y="490.12" font-size="7.0" text-anchor="middle" font-weight="normal" fill="#1a1a1a" >+</text>
<text x="79.60" y="490.12" font-size="7.0" text-anchor="middle" font-weight="normal" fill="#1a1a1a" >−</text>
<text x="87.40" y="490.12" font-size="7.0" text-anchor="middle" font-weight="normal" fill="#1a1a1a" >+</text>
<text x="102.00" y="490.12" font-size="7.0" text-anchor="middle" font-weight="normal" fill="#1a1a1a" >−</text>
<text x="109.60" y="490.12" font-size="7.0" text-anchor="middle" font-weight="normal" fill="#1a1a1a" >+</text>
<text x="117.20" y="490.12" font-size="7.0" text-anchor="middle" font-weight="normal" fill="#1a1a1a" >−</text>
<text x="125.00" y="490.12" font-size="7.0" text-anchor="middle" font-weight="normal" fill="#1a1a1a" >+</text>
<text x="139.60" y="490.12" font-size="7.0" text-anchor="middle" font-weight="normal" fill="#1a1a1a" >−</text>
<text x="147.20" y="490.12" font-size="7.0" text-anchor="middle" font-weight="normal" fill="#1a1a1a" >+</text>
<text x="155.00" y="490.12" font-size="7.0" text-anchor="middle" font-weight="normal" fill="#1a1a1a" >−</text>
<text x="162.70" y="490.12" font-size="7.0" text-anchor="middle" font-weight="normal" fill="#1a1a1a" >+</text>
<text x="176.50" y="490.12" font-size="7.0" text-anchor="middle" font-weight="normal" fill="#1a1a1a" >−</text>
<text x="184.60" y="490.12" font-size="7.0" text-anchor="middle" font-weight="normal" fill="#1a1a1a" >+</text>
<text x="192.70" y="490.12" font-size="7.0" text-anchor="middle" font-weight="normal" fill="#1a1a1a" >−</text>
<text x="200.30" y="490.12" font-size="7.0" text-anchor="middle" font-weight="normal" fill="#1a1a1a" >+</text>
<rect x="53.90" y="502.60" width="6.50" height="6.50" fill="#1f5a8c" />
<text x="63.90" y="508.39" font-size="7.2" text-anchor="start" font-weight="normal" fill="#1a1a1a" >control</text>
<rect x="92.50" y="502.60" width="6.50" height="6.50" fill="#c8102e" />
<text x="102.50" y="508.39" font-size="7.2" text-anchor="start" font-weight="normal" fill="#1a1a1a" >AML 1.1</text>
<rect x="135.60" y="502.60" width="6.50" height="6.50" fill="#e5158f" />
<text x="145.60" y="508.39" font-size="7.2" text-anchor="start" font-weight="normal" fill="#1a1a1a" >AML 1.2</text>
<rect x="180.00" y="502.60" width="6.50" height="6.50" fill="#f7931e" />
<text x="190.00" y="508.39" font-size="7.2" text-anchor="start" font-weight="normal" fill="#1a1a1a" >AML 2</text>
<text x="228.80" y="347.00" font-size="12.8" text-anchor="start" font-weight="bold" fill="#111" stroke="#111" stroke-width="0.35">F</text>
<line x1="273.50" y1="363.50" x2="273.50" y2="465.70" stroke="#1a1a1a" stroke-width="1.2"/>
<line x1="270.10" y1="366.50" x2="273.30" y2="366.50" stroke="#1a1a1a" stroke-width="1.1"/>
<text x="266.10" y="368.98" font-size="7.3" text-anchor="end" font-weight="normal" fill="#1a1a1a" >100</text>
<line x1="270.10" y1="386.50" x2="273.30" y2="386.50" stroke="#1a1a1a" stroke-width="1.1"/>
<text x="266.10" y="388.73" font-size="7.3" text-anchor="end" font-weight="normal" fill="#1a1a1a" >80</text>
<line x1="270.10" y1="405.50" x2="273.30" y2="405.50" stroke="#1a1a1a" stroke-width="1.1"/>
<text x="266.10" y="408.48" font-size="7.3" text-anchor="end" font-weight="normal" fill="#1a1a1a" >60</text>
<line x1="270.10" y1="425.50" x2="273.30" y2="425.50" stroke="#1a1a1a" stroke-width="1.1"/>
<text x="266.10" y="428.23" font-size="7.3" text-anchor="end" font-weight="normal" fill="#1a1a1a" >40</text>
<line x1="270.10" y1="445.50" x2="273.30" y2="445.50" stroke="#1a1a1a" stroke-width="1.1"/>
<text x="266.10" y="447.98" font-size="7.3" text-anchor="end" font-weight="normal" fill="#1a1a1a" >20</text>
<line x1="270.10" y1="465.50" x2="273.30" y2="465.50" stroke="#1a1a1a" stroke-width="1.1"/>
<text x="266.10" y="467.73" font-size="7.3" text-anchor="end" font-weight="normal" fill="#1a1a1a" >0</text>
<text x="0" y="0" font-size="8.2" font-weight="bold" text-anchor="middle" fill="#1a1a1a" textLength="55" lengthAdjust="spacingAndGlyphs" transform="translate(247.25,415.80) rotate(-90)">CFU per 1000 cells</text>
<rect x="276.60" y="381.16" width="11.00" height="83.94" fill="#c8102e" />
<rect x="290.30" y="446.34" width="11.00" height="18.76" fill="#b8142e" />
<rect x="310.50" y="444.36" width="11.00" height="20.74" fill="#e5158f" />
<rect x="323.70" y="464.41" width="11.00" height="0.69" fill="#c8127a" />
<rect x="343.90" y="438.44" width="11.00" height="26.66" fill="#f7931e" />
<rect x="357.70" y="459.18" width="11.00" height="5.93" fill="#e8891c" />
<line x1="272.70" y1="465.50" x2="370.50" y2="465.50" stroke="#1a1a1a" stroke-width="1.2"/>
<line x1="288.50" y1="465.10" x2="288.50" y2="468.10" stroke="#1a1a1a" stroke-width="1.0"/>
<line x1="322.50" y1="465.10" x2="322.50" y2="468.10" stroke="#1a1a1a" stroke-width="1.0"/>
<line x1="356.50" y1="465.10" x2="356.50" y2="468.10" stroke="#1a1a1a" stroke-width="1.0"/>
<line x1="282.50" y1="375.50" x2="282.50" y2="387.00" stroke="#1a1a1a" stroke-width="1.0"/>
<line x1="279.60" y1="375.50" x2="284.60" y2="375.50" stroke="#1a1a1a" stroke-width="1.0"/>
<line x1="279.60" y1="387.50" x2="284.60" y2="387.50" stroke="#1a1a1a" stroke-width="1.0"/>
<circle cx="282.10" cy="370.00" r="1.70" fill="#111" />
<circle cx="282.10" cy="382.50" r="1.70" fill="#111" />
<circle cx="282.10" cy="390.50" r="1.70" fill="#111" />
<line x1="295.50" y1="436.20" x2="295.50" y2="455.00" stroke="#1a1a1a" stroke-width="1.0"/>
<line x1="293.30" y1="436.50" x2="298.30" y2="436.50" stroke="#1a1a1a" stroke-width="1.0"/>
<line x1="293.30" y1="455.50" x2="298.30" y2="455.50" stroke="#1a1a1a" stroke-width="1.0"/>
<path d="M296.00 427.41 L297.90 430.83 L294.10 430.83 Z" fill="#111"/>
<path d="M296.00 445.41 L297.90 448.83 L294.10 448.83 Z" fill="#111"/>
<path d="M296.00 459.21 L297.90 462.63 L294.10 462.63 Z" fill="#111"/>
<line x1="316.50" y1="439.50" x2="316.50" y2="448.80" stroke="#1a1a1a" stroke-width="1.0"/>
<line x1="313.50" y1="439.50" x2="318.50" y2="439.50" stroke="#1a1a1a" stroke-width="1.0"/>
<line x1="313.50" y1="448.50" x2="318.50" y2="448.50" stroke="#1a1a1a" stroke-width="1.0"/>
<circle cx="315.80" cy="436.20" r="1.70" fill="#111" />
<circle cx="315.80" cy="447.50" r="1.70" fill="#111" />
<circle cx="315.80" cy="449.50" r="1.70" fill="#111" />
<path d="M327.00 462.35 L328.50 465.05 L325.50 465.05 Z" fill="#111"/>
<path d="M329.50 461.95 L331.00 464.65 L328.00 464.65 Z" fill="#111"/>
<path d="M332.00 462.35 L333.50 465.05 L330.50 465.05 Z" fill="#111"/>
<line x1="349.50" y1="428.00" x2="349.50" y2="448.00" stroke="#1a1a1a" stroke-width="1.0"/>
<line x1="346.90" y1="428.50" x2="351.90" y2="428.50" stroke="#1a1a1a" stroke-width="1.0"/>
<line x1="346.90" y1="448.50" x2="351.90" y2="448.50" stroke="#1a1a1a" stroke-width="1.0"/>
<circle cx="349.30" cy="419.30" r="1.70" fill="#111" />
<circle cx="349.30" cy="447.50" r="1.70" fill="#111" />
<circle cx="349.30" cy="454.30" r="1.70" fill="#111" />
<line x1="363.50" y1="457.00" x2="363.50" y2="462.50" stroke="#1a1a1a" stroke-width="1.0"/>
<line x1="361.00" y1="457.50" x2="366.00" y2="457.50" stroke="#1a1a1a" stroke-width="1.0"/>
<line x1="361.00" y1="462.50" x2="366.00" y2="462.50" stroke="#1a1a1a" stroke-width="1.0"/>
<path d="M363.80 454.43 L365.50 457.49 L362.10 457.49 Z" fill="#111"/>
<path d="M363.80 458.63 L365.50 461.69 L362.10 461.69 Z" fill="#111"/>
<path d="M363.80 460.63 L365.50 463.69 L362.10 463.69 Z" fill="#111"/>
<line x1="281.30" y1="358.50" x2="297.00" y2="358.50" stroke="#4a4a4a" stroke-width="1.1"/>
<text x="289.15" y="358.90" font-size="7.6" text-anchor="middle" font-weight="normal" fill="#111" >*</text>
<line x1="315.00" y1="358.50" x2="330.00" y2="358.50" stroke="#4a4a4a" stroke-width="1.1"/>
<text x="322.50" y="358.90" font-size="7.6" text-anchor="middle" font-weight="normal" fill="#111" >*</text>
<line x1="348.80" y1="358.50" x2="363.80" y2="358.50" stroke="#4a4a4a" stroke-width="1.1"/>
<text x="356.30" y="356.56" font-size="6.5" text-anchor="middle" font-weight="normal" fill="#222" >ns</text>
<text x="289.00" y="477.83" font-size="7.3" text-anchor="middle" font-weight="normal" fill="#1a1a1a" >AML 1.1</text>
<text x="322.00" y="477.83" font-size="7.3" text-anchor="middle" font-weight="normal" fill="#1a1a1a" >AML 1.2</text>
<text x="356.30" y="477.83" font-size="7.3" text-anchor="middle" font-weight="normal" fill="#1a1a1a" >AML 2</text>
<circle cx="378.90" cy="408.30" r="3.20" fill="#111" />
<path d="M378.9 416.6 L382.2 422.7 L375.6 422.7 Z" fill="#111"/>
<text x="386.00" y="411.00" font-size="7.5" text-anchor="start" font-weight="normal" fill="#1a1a1a" >DMSO</text>
<text x="386.00" y="422.50" font-size="7.5" text-anchor="start" font-weight="normal" fill="#1a1a1a" >UNC1999 + AZA</text>
<text x="7.50" y="539.30" font-size="12.8" text-anchor="start" font-weight="bold" fill="#111" stroke="#111" stroke-width="0.35">G</text>
<line x1="59.50" y1="572.00" x2="59.50" y2="669.30" stroke="#1a1a1a" stroke-width="1.2"/>
<line x1="56.00" y1="668.50" x2="59.20" y2="668.50" stroke="#1a1a1a" stroke-width="1.1"/>
<text x="52.00" y="671.33" font-size="7.3" text-anchor="end" font-weight="normal" fill="#1a1a1a" >0</text>
<line x1="56.00" y1="645.50" x2="59.20" y2="645.50" stroke="#1a1a1a" stroke-width="1.1"/>
<text x="52.00" y="647.78" font-size="7.3" text-anchor="end" font-weight="normal" fill="#1a1a1a" >500</text>
<line x1="56.00" y1="621.50" x2="59.20" y2="621.50" stroke="#1a1a1a" stroke-width="1.1"/>
<text x="52.00" y="624.23" font-size="7.3" text-anchor="end" font-weight="normal" fill="#1a1a1a" >1000</text>
<line x1="56.00" y1="598.50" x2="59.20" y2="598.50" stroke="#1a1a1a" stroke-width="1.1"/>
<text x="52.00" y="600.68" font-size="7.3" text-anchor="end" font-weight="normal" fill="#1a1a1a" >1500</text>
<line x1="56.00" y1="574.50" x2="59.20" y2="574.50" stroke="#1a1a1a" stroke-width="1.1"/>
<text x="52.00" y="577.13" font-size="7.3" text-anchor="end" font-weight="normal" fill="#1a1a1a" >2000</text>
<rect x="63.80" y="596.64" width="10.00" height="72.06" fill="#1f5a8c" />
<rect x="78.10" y="602.29" width="10.00" height="66.41" fill="#1f5a8c" />
<rect x="92.50" y="597.34" width="10.00" height="71.36" fill="#1f5a8c" />
<rect x="106.80" y="593.10" width="10.00" height="75.60" fill="#1f5a8c" />
<line x1="58.60" y1="668.50" x2="119.40" y2="668.50" stroke="#1a1a1a" stroke-width="1.2"/>
<line x1="68.50" y1="668.70" x2="68.50" y2="671.70" stroke="#1a1a1a" stroke-width="1.0"/>
<line x1="83.50" y1="668.70" x2="83.50" y2="671.70" stroke="#1a1a1a" stroke-width="1.0"/>
<line x1="97.50" y1="668.70" x2="97.50" y2="671.70" stroke="#1a1a1a" stroke-width="1.0"/>
<line x1="111.50" y1="668.70" x2="111.50" y2="671.70" stroke="#1a1a1a" stroke-width="1.0"/>
<line x1="68.50" y1="590.80" x2="68.50" y2="602.00" stroke="#1a1a1a" stroke-width="1.0"/>
<line x1="66.05" y1="590.50" x2="71.55" y2="590.50" stroke="#1a1a1a" stroke-width="1.0"/>
<line x1="66.05" y1="602.50" x2="71.55" y2="602.50" stroke="#1a1a1a" stroke-width="1.0"/>
<line x1="83.50" y1="598.80" x2="83.50" y2="605.20" stroke="#1a1a1a" stroke-width="1.0"/>
<line x1="80.35" y1="598.50" x2="85.85" y2="598.50" stroke="#1a1a1a" stroke-width="1.0"/>
<line x1="80.35" y1="605.50" x2="85.85" y2="605.50" stroke="#1a1a1a" stroke-width="1.0"/>
<line x1="97.50" y1="590.40" x2="97.50" y2="604.10" stroke="#1a1a1a" stroke-width="1.0"/>
<line x1="94.75" y1="590.50" x2="100.25" y2="590.50" stroke="#1a1a1a" stroke-width="1.0"/>
<line x1="94.75" y1="604.50" x2="100.25" y2="604.50" stroke="#1a1a1a" stroke-width="1.0"/>
<line x1="111.50" y1="590.80" x2="111.50" y2="595.70" stroke="#1a1a1a" stroke-width="1.0"/>
<line x1="109.05" y1="590.50" x2="114.55" y2="590.50" stroke="#1a1a1a" stroke-width="1.0"/>
<line x1="109.05" y1="595.50" x2="114.55" y2="595.50" stroke="#1a1a1a" stroke-width="1.0"/>
<circle cx="69.10" cy="587.20" r="1.80" fill="#111" />
<circle cx="69.10" cy="596.70" r="1.80" fill="#111" />
<circle cx="69.10" cy="606.90" r="1.80" fill="#111" />
<circle cx="83.00" cy="597.40" r="1.80" fill="#111" />
<circle cx="83.00" cy="599.90" r="1.80" fill="#111" />
<circle cx="83.00" cy="607.30" r="1.80" fill="#111" />
<circle cx="97.20" cy="585.10" r="1.80" fill="#111" />
<circle cx="97.20" cy="597.80" r="1.80" fill="#111" />
<circle cx="97.20" cy="609.40" r="1.80" fill="#111" />
<circle cx="108.40" cy="590.00" r="1.80" fill="#111" />
<circle cx="112.00" cy="591.40" r="1.80" fill="#111" />
<circle cx="115.20" cy="591.40" r="1.80" fill="#111" />
<circle cx="112.00" cy="595.70" r="1.80" fill="#111" />
<text x="90.60" y="538.80" font-size="10.0" text-anchor="middle" font-weight="normal" fill="#1a1a1a" >HL-60</text>
<line x1="68.80" y1="551.50" x2="112.00" y2="551.50" stroke="#333" stroke-width="1.1"/>
<text x="90.40" y="550.09" font-size="7.0" text-anchor="middle" font-weight="normal" fill="#222" >ns</text>
<line x1="68.80" y1="563.50" x2="98.00" y2="563.50" stroke="#333" stroke-width="1.1"/>
<text x="83.40" y="561.79" font-size="7.0" text-anchor="middle" font-weight="normal" fill="#222" >ns</text>
<line x1="68.80" y1="574.50" x2="83.80" y2="574.50" stroke="#333" stroke-width="1.1"/>
<text x="76.30" y="572.49" font-size="7.0" text-anchor="middle" font-weight="normal" fill="#222" >ns</text>
<line x1="162.50" y1="572.00" x2="162.50" y2="669.60" stroke="#1a1a1a" stroke-width="1.2"/>
<line x1="159.60" y1="669.50" x2="162.80" y2="669.50" stroke="#1a1a1a" stroke-width="1.1"/>
<text x="155.60" y="671.63" font-size="7.3" text-anchor="end" font-weight="normal" fill="#1a1a1a" >0</text>
<line x1="159.60" y1="637.50" x2="162.80" y2="637.50" stroke="#1a1a1a" stroke-width="1.1"/>
<text x="155.60" y="640.13" font-size="7.3" text-anchor="end" font-weight="normal" fill="#1a1a1a" >500</text>
<line x1="159.60" y1="606.50" x2="162.80" y2="606.50" stroke="#1a1a1a" stroke-width="1.1"/>
<text x="155.60" y="608.63" font-size="7.3" text-anchor="end" font-weight="normal" fill="#1a1a1a" >1000</text>
<line x1="159.60" y1="574.50" x2="162.80" y2="574.50" stroke="#1a1a1a" stroke-width="1.1"/>
<text x="155.60" y="577.13" font-size="7.3" text-anchor="end" font-weight="normal" fill="#1a1a1a" >1500</text>
<rect x="167.20" y="608.21" width="10.00" height="60.79" fill="#3aa6dd" />
<rect x="181.50" y="608.52" width="10.00" height="60.48" fill="#3aa6dd" />
<rect x="195.70" y="597.81" width="10.00" height="71.19" fill="#3aa6dd" />
<rect x="210.00" y="596.87" width="10.00" height="72.13" fill="#3aa6dd" />
<line x1="162.20" y1="669.50" x2="224.10" y2="669.50" stroke="#1a1a1a" stroke-width="1.2"/>
<line x1="172.50" y1="669.00" x2="172.50" y2="672.00" stroke="#1a1a1a" stroke-width="1.0"/>
<line x1="186.50" y1="669.00" x2="186.50" y2="672.00" stroke="#1a1a1a" stroke-width="1.0"/>
<line x1="200.50" y1="669.00" x2="200.50" y2="672.00" stroke="#1a1a1a" stroke-width="1.0"/>
<line x1="215.50" y1="669.00" x2="215.50" y2="672.00" stroke="#1a1a1a" stroke-width="1.0"/>
<line x1="172.50" y1="604.10" x2="172.50" y2="612.60" stroke="#1a1a1a" stroke-width="1.0"/>
<line x1="169.45" y1="604.50" x2="174.95" y2="604.50" stroke="#1a1a1a" stroke-width="1.0"/>
<line x1="169.45" y1="612.50" x2="174.95" y2="612.50" stroke="#1a1a1a" stroke-width="1.0"/>
<line x1="186.50" y1="602.70" x2="186.50" y2="614.70" stroke="#1a1a1a" stroke-width="1.0"/>
<line x1="183.75" y1="602.50" x2="189.25" y2="602.50" stroke="#1a1a1a" stroke-width="1.0"/>
<line x1="183.75" y1="614.50" x2="189.25" y2="614.50" stroke="#1a1a1a" stroke-width="1.0"/>
<line x1="200.50" y1="590.40" x2="200.50" y2="605.20" stroke="#1a1a1a" stroke-width="1.0"/>
<line x1="197.95" y1="590.50" x2="203.45" y2="590.50" stroke="#1a1a1a" stroke-width="1.0"/>
<line x1="197.95" y1="605.50" x2="203.45" y2="605.50" stroke="#1a1a1a" stroke-width="1.0"/>
<line x1="215.50" y1="593.60" x2="215.50" y2="598.80" stroke="#1a1a1a" stroke-width="1.0"/>
<line x1="212.25" y1="593.50" x2="217.75" y2="593.50" stroke="#1a1a1a" stroke-width="1.0"/>
<line x1="212.25" y1="598.50" x2="217.75" y2="598.50" stroke="#1a1a1a" stroke-width="1.0"/>
<circle cx="171.90" cy="601.00" r="1.80" fill="#111" />
<circle cx="169.10" cy="613.20" r="1.80" fill="#111" />
<circle cx="175.50" cy="610.00" r="1.80" fill="#111" />
<circle cx="186.00" cy="602.70" r="1.80" fill="#111" />
<circle cx="186.00" cy="604.80" r="1.80" fill="#111" />
<circle cx="186.00" cy="616.80" r="1.80" fill="#111" />
<circle cx="200.40" cy="585.10" r="1.80" fill="#111" />
<circle cx="200.40" cy="597.80" r="1.80" fill="#111" />
<circle cx="200.40" cy="612.00" r="1.80" fill="#111" />
<circle cx="214.60" cy="593.60" r="1.80" fill="#111" />
<circle cx="214.60" cy="596.70" r="1.80" fill="#111" />
<circle cx="214.60" cy="598.80" r="1.80" fill="#111" />
<text x="193.80" y="538.20" font-size="10.0" text-anchor="middle" font-weight="normal" fill="#1a1a1a" >OCI-AML3</text>
<line x1="171.90" y1="551.50" x2="215.70" y2="551.50" stroke="#333" stroke-width="1.1"/>
<text x="193.80" y="549.59" font-size="7.0" text-anchor="middle" font-weight="normal" fill="#222" >ns</text>
<line x1="171.90" y1="563.50" x2="201.50" y2="563.50" stroke="#333" stroke-width="1.1"/>
<text x="186.70" y="561.29" font-size="7.0" text-anchor="middle" font-weight="normal" fill="#222" >ns</text>
<line x1="171.90" y1="574.50" x2="187.10" y2="574.50" stroke="#333" stroke-width="1.1"/>
<text x="179.50" y="572.89" font-size="7.0" text-anchor="middle" font-weight="normal" fill="#222" >ns</text>
<line x1="261.50" y1="573.00" x2="261.50" y2="669.30" stroke="#1a1a1a" stroke-width="1.2"/>
<line x1="258.70" y1="668.50" x2="261.90" y2="668.50" stroke="#1a1a1a" stroke-width="1.1"/>
<text x="254.70" y="671.33" font-size="7.3" text-anchor="end" font-weight="normal" fill="#1a1a1a" >0</text>
<line x1="258.70" y1="645.50" x2="261.90" y2="645.50" stroke="#1a1a1a" stroke-width="1.1"/>
<text x="254.70" y="648.03" font-size="7.3" text-anchor="end" font-weight="normal" fill="#1a1a1a" >100</text>
<line x1="258.70" y1="622.50" x2="261.90" y2="622.50" stroke="#1a1a1a" stroke-width="1.1"/>
<text x="254.70" y="624.73" font-size="7.3" text-anchor="end" font-weight="normal" fill="#1a1a1a" >200</text>
<line x1="258.70" y1="598.50" x2="261.90" y2="598.50" stroke="#1a1a1a" stroke-width="1.1"/>
<text x="254.70" y="601.43" font-size="7.3" text-anchor="end" font-weight="normal" fill="#1a1a1a" >300</text>
<line x1="258.70" y1="575.50" x2="261.90" y2="575.50" stroke="#1a1a1a" stroke-width="1.1"/>
<text x="254.70" y="578.13" font-size="7.3" text-anchor="end" font-weight="normal" fill="#1a1a1a" >400</text>
<rect x="266.30" y="592.51" width="10.00" height="76.19" fill="#c41230" />
<rect x="280.60" y="602.99" width="10.00" height="65.71" fill="#c41230" />
<rect x="295.00" y="627.46" width="10.00" height="41.24" fill="#c41230" />
<rect x="309.00" y="632.35" width="10.00" height="36.35" fill="#c41230" />
<line x1="261.30" y1="668.50" x2="323.40" y2="668.50" stroke="#1a1a1a" stroke-width="1.2"/>
<line x1="271.50" y1="668.70" x2="271.50" y2="671.70" stroke="#1a1a1a" stroke-width="1.0"/>
<line x1="285.50" y1="668.70" x2="285.50" y2="671.70" stroke="#1a1a1a" stroke-width="1.0"/>
<line x1="300.50" y1="668.70" x2="300.50" y2="671.70" stroke="#1a1a1a" stroke-width="1.0"/>
<line x1="314.50" y1="668.70" x2="314.50" y2="671.70" stroke="#1a1a1a" stroke-width="1.0"/>
<line x1="271.50" y1="590.00" x2="271.50" y2="594.60" stroke="#1a1a1a" stroke-width="1.0"/>
<line x1="268.55" y1="590.50" x2="274.05" y2="590.50" stroke="#1a1a1a" stroke-width="1.0"/>
<line x1="268.55" y1="594.50" x2="274.05" y2="594.50" stroke="#1a1a1a" stroke-width="1.0"/>
<line x1="285.50" y1="598.40" x2="285.50" y2="607.30" stroke="#1a1a1a" stroke-width="1.0"/>
<line x1="282.85" y1="598.50" x2="288.35" y2="598.50" stroke="#1a1a1a" stroke-width="1.0"/>
<line x1="282.85" y1="607.50" x2="288.35" y2="607.50" stroke="#1a1a1a" stroke-width="1.0"/>
<line x1="300.50" y1="624.20" x2="300.50" y2="630.60" stroke="#1a1a1a" stroke-width="1.0"/>
<line x1="297.25" y1="624.50" x2="302.75" y2="624.50" stroke="#1a1a1a" stroke-width="1.0"/>
<line x1="297.25" y1="630.50" x2="302.75" y2="630.50" stroke="#1a1a1a" stroke-width="1.0"/>
<line x1="314.50" y1="629.50" x2="314.50" y2="634.80" stroke="#1a1a1a" stroke-width="1.0"/>
<line x1="311.25" y1="629.50" x2="316.75" y2="629.50" stroke="#1a1a1a" stroke-width="1.0"/>
<line x1="311.25" y1="634.50" x2="316.75" y2="634.50" stroke="#1a1a1a" stroke-width="1.0"/>
<circle cx="268.40" cy="588.90" r="1.80" fill="#111" />
<circle cx="274.80" cy="588.90" r="1.80" fill="#111" />
<circle cx="271.60" cy="598.80" r="1.80" fill="#111" />
<circle cx="285.30" cy="593.60" r="1.80" fill="#111" />
<circle cx="283.70" cy="606.30" r="1.80" fill="#111" />
<circle cx="287.50" cy="606.30" r="1.80" fill="#111" />
<circle cx="299.50" cy="620.40" r="1.80" fill="#111" />
<circle cx="297.40" cy="629.50" r="1.80" fill="#111" />
<circle cx="301.60" cy="629.50" r="1.80" fill="#111" />
<circle cx="313.70" cy="629.10" r="1.80" fill="#111" />
<circle cx="312.20" cy="633.10" r="1.80" fill="#111" />
<circle cx="315.00" cy="634.80" r="1.80" fill="#111" />
<text x="292.80" y="541.40" font-size="10.0" text-anchor="middle" font-weight="normal" fill="#1a1a1a" >MONO-MAC-6</text>
<line x1="271.00" y1="552.50" x2="314.30" y2="552.50" stroke="#333" stroke-width="1.1"/>
<text x="292.65" y="553.00" font-size="7.6" text-anchor="middle" font-weight="normal" fill="#111" >***</text>
<line x1="271.00" y1="564.50" x2="300.00" y2="564.50" stroke="#333" stroke-width="1.1"/>
<text x="285.50" y="564.40" font-size="7.6" text-anchor="middle" font-weight="normal" fill="#111" >***</text>
<line x1="271.00" y1="575.50" x2="285.80" y2="575.50" stroke="#333" stroke-width="1.1"/>
<text x="278.40" y="573.99" font-size="7.0" text-anchor="middle" font-weight="normal" fill="#222" >ns</text>
<line x1="361.50" y1="573.00" x2="361.50" y2="669.30" stroke="#1a1a1a" stroke-width="1.2"/>
<line x1="358.10" y1="668.50" x2="361.30" y2="668.50" stroke="#1a1a1a" stroke-width="1.1"/>
<text x="354.10" y="671.33" font-size="7.3" text-anchor="end" font-weight="normal" fill="#1a1a1a" >0</text>
<line x1="358.10" y1="645.50" x2="361.30" y2="645.50" stroke="#1a1a1a" stroke-width="1.1"/>
<text x="354.10" y="648.03" font-size="7.3" text-anchor="end" font-weight="normal" fill="#1a1a1a" >200</text>
<line x1="358.10" y1="622.50" x2="361.30" y2="622.50" stroke="#1a1a1a" stroke-width="1.1"/>
<text x="354.10" y="624.73" font-size="7.3" text-anchor="end" font-weight="normal" fill="#1a1a1a" >400</text>
<line x1="358.10" y1="598.50" x2="361.30" y2="598.50" stroke="#1a1a1a" stroke-width="1.1"/>
<text x="354.10" y="601.43" font-size="7.3" text-anchor="end" font-weight="normal" fill="#1a1a1a" >600</text>
<line x1="358.10" y1="575.50" x2="361.30" y2="575.50" stroke="#1a1a1a" stroke-width="1.1"/>
<text x="354.10" y="578.13" font-size="7.3" text-anchor="end" font-weight="normal" fill="#1a1a1a" >800</text>
<rect x="365.90" y="590.06" width="10.00" height="78.64" fill="#e5198a" />
<rect x="380.00" y="601.13" width="10.00" height="67.57" fill="#e5198a" />
<rect x="394.50" y="648.08" width="10.00" height="20.62" fill="#e5198a" />
<rect x="408.80" y="655.54" width="10.00" height="13.16" fill="#e5198a" />
<line x1="360.70" y1="668.50" x2="423.40" y2="668.50" stroke="#1a1a1a" stroke-width="1.2"/>
<line x1="370.50" y1="668.70" x2="370.50" y2="671.70" stroke="#1a1a1a" stroke-width="1.0"/>
<line x1="385.50" y1="668.70" x2="385.50" y2="671.70" stroke="#1a1a1a" stroke-width="1.0"/>
<line x1="399.50" y1="668.70" x2="399.50" y2="671.70" stroke="#1a1a1a" stroke-width="1.0"/>
<line x1="413.50" y1="668.70" x2="413.50" y2="671.70" stroke="#1a1a1a" stroke-width="1.0"/>
<line x1="370.50" y1="586.20" x2="370.50" y2="592.00" stroke="#1a1a1a" stroke-width="1.0"/>
<line x1="368.15" y1="586.50" x2="373.65" y2="586.50" stroke="#1a1a1a" stroke-width="1.0"/>
<line x1="368.15" y1="592.50" x2="373.65" y2="592.50" stroke="#1a1a1a" stroke-width="1.0"/>
<line x1="385.50" y1="599.30" x2="385.50" y2="602.70" stroke="#1a1a1a" stroke-width="1.0"/>
<line x1="382.25" y1="599.50" x2="387.75" y2="599.50" stroke="#1a1a1a" stroke-width="1.0"/>
<line x1="382.25" y1="602.50" x2="387.75" y2="602.50" stroke="#1a1a1a" stroke-width="1.0"/>
<line x1="399.50" y1="647.00" x2="399.50" y2="649.00" stroke="#1a1a1a" stroke-width="1.0"/>
<line x1="396.75" y1="647.50" x2="402.25" y2="647.50" stroke="#1a1a1a" stroke-width="1.0"/>
<line x1="396.75" y1="649.50" x2="402.25" y2="649.50" stroke="#1a1a1a" stroke-width="1.0"/>
<line x1="413.50" y1="653.90" x2="413.50" y2="656.50" stroke="#1a1a1a" stroke-width="1.0"/>
<line x1="411.05" y1="653.50" x2="416.55" y2="653.50" stroke="#1a1a1a" stroke-width="1.0"/>
<line x1="411.05" y1="656.50" x2="416.55" y2="656.50" stroke="#1a1a1a" stroke-width="1.0"/>
<circle cx="371.00" cy="584.50" r="1.80" fill="#111" />
<circle cx="368.80" cy="590.40" r="1.80" fill="#111" />
<circle cx="374.10" cy="590.80" r="1.80" fill="#111" />
<circle cx="381.50" cy="598.80" r="1.80" fill="#111" />
<circle cx="389.00" cy="600.50" r="1.80" fill="#111" />
<circle cx="384.70" cy="603.70" r="1.80" fill="#111" />
<circle cx="398.50" cy="647.50" r="1.80" fill="#111" />
<circle cx="396.30" cy="648.10" r="1.80" fill="#111" />
<circle cx="400.60" cy="648.10" r="1.80" fill="#111" />
<circle cx="410.10" cy="653.40" r="1.80" fill="#111" />
<circle cx="410.10" cy="656.40" r="1.80" fill="#111" />
<circle cx="416.40" cy="654.90" r="1.80" fill="#111" />
<text x="391.70" y="541.50" font-size="10.0" text-anchor="middle" font-weight="normal" fill="#1a1a1a" >THP-1</text>
<line x1="370.70" y1="552.50" x2="414.00" y2="552.50" stroke="#333" stroke-width="1.1"/>
<text x="392.35" y="553.00" font-size="7.6" text-anchor="middle" font-weight="normal" fill="#111" >***</text>
<line x1="370.70" y1="564.50" x2="399.70" y2="564.50" stroke="#333" stroke-width="1.1"/>
<text x="385.20" y="564.40" font-size="7.6" text-anchor="middle" font-weight="normal" fill="#111" >***</text>
<line x1="370.70" y1="575.50" x2="385.00" y2="575.50" stroke="#333" stroke-width="1.1"/>
<text x="377.85" y="575.90" font-size="7.6" text-anchor="middle" font-weight="normal" fill="#111" >**</text>
<text x="0" y="0" font-size="8.2" font-weight="bold" text-anchor="middle" fill="#1a1a1a" textLength="55" lengthAdjust="spacingAndGlyphs" transform="translate(28.85,622.00) rotate(-90)">CFU per 1000 cells</text>
<text x="59.00" y="682.93" font-size="7.3" text-anchor="end" font-weight="normal" fill="#1a1a1a" >UNC1999</text>
<text x="59.00" y="694.63" font-size="7.3" text-anchor="end" font-weight="normal" fill="#1a1a1a" >AZA</text>
<text x="68.70" y="682.82" font-size="7.0" text-anchor="middle" font-weight="normal" fill="#1a1a1a" >−</text>
<text x="83.00" y="682.82" font-size="7.0" text-anchor="middle" font-weight="normal" fill="#1a1a1a" >−</text>
<text x="97.20" y="682.82" font-size="7.0" text-anchor="middle" font-weight="normal" fill="#1a1a1a" >+</text>
<text x="111.60" y="682.82" font-size="7.0" text-anchor="middle" font-weight="normal" fill="#1a1a1a" >+</text>
<text x="68.70" y="694.52" font-size="7.0" text-anchor="middle" font-weight="normal" fill="#1a1a1a" >−</text>
<text x="83.00" y="694.52" font-size="7.0" text-anchor="middle" font-weight="normal" fill="#1a1a1a" >+</text>
<text x="97.20" y="694.52" font-size="7.0" text-anchor="middle" font-weight="normal" fill="#1a1a1a" >−</text>
<text x="111.60" y="694.52" font-size="7.0" text-anchor="middle" font-weight="normal" fill="#1a1a1a" >+</text>
<text x="172.30" y="682.82" font-size="7.0" text-anchor="middle" font-weight="normal" fill="#1a1a1a" >−</text>
<text x="186.00" y="682.82" font-size="7.0" text-anchor="middle" font-weight="normal" fill="#1a1a1a" >−</text>
<text x="200.90" y="682.82" font-size="7.0" text-anchor="middle" font-weight="normal" fill="#1a1a1a" >+</text>
<text x="214.60" y="682.82" font-size="7.0" text-anchor="middle" font-weight="normal" fill="#1a1a1a" >+</text>
<text x="172.30" y="694.52" font-size="7.0" text-anchor="middle" font-weight="normal" fill="#1a1a1a" >−</text>
<text x="186.00" y="694.52" font-size="7.0" text-anchor="middle" font-weight="normal" fill="#1a1a1a" >+</text>
<text x="200.90" y="694.52" font-size="7.0" text-anchor="middle" font-weight="normal" fill="#1a1a1a" >−</text>
<text x="214.60" y="694.52" font-size="7.0" text-anchor="middle" font-weight="normal" fill="#1a1a1a" >+</text>
<text x="271.00" y="682.82" font-size="7.0" text-anchor="middle" font-weight="normal" fill="#1a1a1a" >−</text>
<text x="285.30" y="682.82" font-size="7.0" text-anchor="middle" font-weight="normal" fill="#1a1a1a" >−</text>
<text x="299.50" y="682.82" font-size="7.0" text-anchor="middle" font-weight="normal" fill="#1a1a1a" >+</text>
<text x="313.70" y="682.82" font-size="7.0" text-anchor="middle" font-weight="normal" fill="#1a1a1a" >+</text>
<text x="271.00" y="694.52" font-size="7.0" text-anchor="middle" font-weight="normal" fill="#1a1a1a" >−</text>
<text x="285.30" y="694.52" font-size="7.0" text-anchor="middle" font-weight="normal" fill="#1a1a1a" >+</text>
<text x="299.50" y="694.52" font-size="7.0" text-anchor="middle" font-weight="normal" fill="#1a1a1a" >−</text>
<text x="313.70" y="694.52" font-size="7.0" text-anchor="middle" font-weight="normal" fill="#1a1a1a" >+</text>
<text x="370.50" y="682.82" font-size="7.0" text-anchor="middle" font-weight="normal" fill="#1a1a1a" >−</text>
<text x="385.10" y="682.82" font-size="7.0" text-anchor="middle" font-weight="normal" fill="#1a1a1a" >−</text>
<text x="399.10" y="682.82" font-size="7.0" text-anchor="middle" font-weight="normal" fill="#1a1a1a" >+</text>
<text x="413.30" y="682.82" font-size="7.0" text-anchor="middle" font-weight="normal" fill="#1a1a1a" >+</text>
<text x="370.50" y="694.52" font-size="7.0" text-anchor="middle" font-weight="normal" fill="#1a1a1a" >−</text>
<text x="385.10" y="694.52" font-size="7.0" text-anchor="middle" font-weight="normal" fill="#1a1a1a" >+</text>
<text x="399.10" y="694.52" font-size="7.0" text-anchor="middle" font-weight="normal" fill="#1a1a1a" >−</text>
<text x="413.30" y="694.52" font-size="7.0" text-anchor="middle" font-weight="normal" fill="#1a1a1a" >+</text>
<rect x="0" y="0" width="520" height="703" fill="none" stroke="#333" stroke-width="0"/>
<rect x="0.00" y="0.00" width="520.00" height="1.00" fill="#2e2e2e" />
<rect x="0.00" y="0.00" width="1.00" height="703.00" fill="#3a3a3a" />
<rect x="518.40" y="0.00" width="1.60" height="703.00" fill="#333" />
<rect x="0.00" y="701.20" width="520.00" height="1.80" fill="#3a3a3a" />
</svg></body></html>
